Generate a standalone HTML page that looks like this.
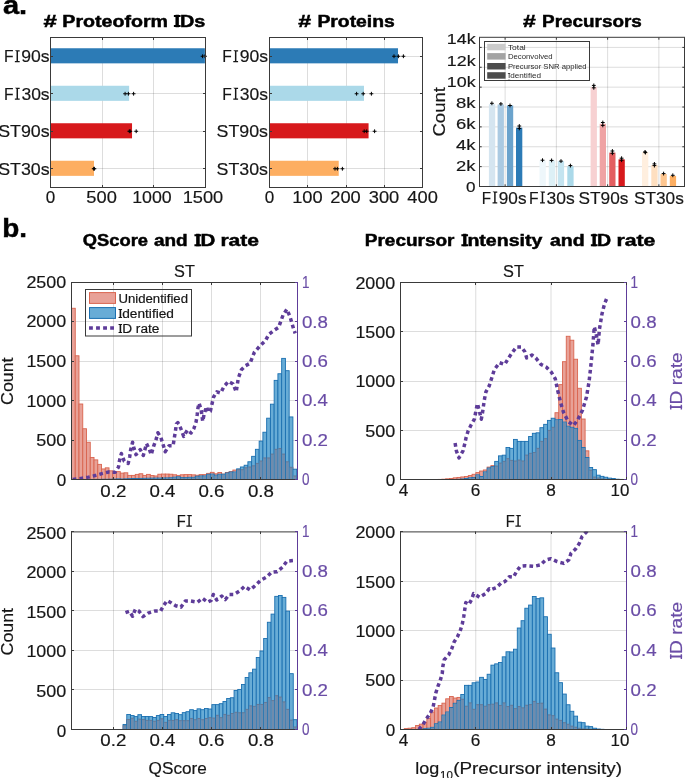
<!DOCTYPE html>
<html><head><meta charset="utf-8"><title>Figure</title><style>html,body{margin:0;padding:0;background:#fff;width:685px;height:778px;overflow:hidden}svg{display:block;will-change:transform}text{font-family:"Liberation Sans",sans-serif}</style></head><body>
<svg width="685" height="778" viewBox="0 0 685 778"><defs><clipPath id="c0"><rect x="71.5" y="282.5" width="226" height="197"/></clipPath><clipPath id="c1"><rect x="400.5" y="282.5" width="226" height="197"/></clipPath><clipPath id="c2"><rect x="71.5" y="531.5" width="226" height="198"/></clipPath><clipPath id="c3"><rect x="400.5" y="531.5" width="226" height="198"/></clipPath></defs><rect width="685" height="778" fill="#fff"/><text x="2.9" y="14.2" font-size="25" font-weight="bold" stroke="#000" stroke-width="0.45" textLength="24.2" lengthAdjust="spacingAndGlyphs">a.</text>
<line x1="102.5" y1="37.5" x2="102.5" y2="187.5" stroke="rgba(38,38,38,0.155)" stroke-width="1"/>
<line x1="153.5" y1="37.5" x2="153.5" y2="187.5" stroke="rgba(38,38,38,0.155)" stroke-width="1"/>
<line x1="50.5" y1="56.5" x2="205.5" y2="56.5" stroke="rgba(38,38,38,0.155)" stroke-width="1"/>
<line x1="50.5" y1="93.5" x2="205.5" y2="93.5" stroke="rgba(38,38,38,0.155)" stroke-width="1"/>
<line x1="50.5" y1="131.5" x2="205.5" y2="131.5" stroke="rgba(38,38,38,0.155)" stroke-width="1"/>
<line x1="50.5" y1="168.5" x2="205.5" y2="168.5" stroke="rgba(38,38,38,0.155)" stroke-width="1"/>
<rect x="50.5" y="48.25" width="154.38" height="15.1" fill="#2c7bb6"/>
<rect x="50.5" y="85.75" width="78.64" height="15.1" fill="#abd9e9"/>
<rect x="50.5" y="123.25" width="81.53" height="15.1" fill="#d7191c"/>
<rect x="50.5" y="160.75" width="43.5" height="15.1" fill="#fdae61"/>
<path d="M200.7 56.25H204.5M202.6 54.35V58.15" stroke="#000" stroke-width="1"/>
<path d="M203.1 56.25H206.9M205 54.35V58.15" stroke="#000" stroke-width="1"/>
<path d="M123.2 93.75H127M125.1 91.85V95.65" stroke="#000" stroke-width="1"/>
<path d="M126.5 93.75H130.3M128.4 91.85V95.65" stroke="#000" stroke-width="1"/>
<path d="M131.7 93.75H135.5M133.6 91.85V95.65" stroke="#000" stroke-width="1"/>
<path d="M127.4 131.25H131.2M129.3 129.35V133.15" stroke="#000" stroke-width="1"/>
<path d="M128.3 131.25H132.1M130.2 129.35V133.15" stroke="#000" stroke-width="1"/>
<path d="M134.3 131.25H138.1M136.2 129.35V133.15" stroke="#000" stroke-width="1"/>
<path d="M91.8 168.75H95.6M93.7 166.85V170.65" stroke="#000" stroke-width="1"/>
<path d="M92.5 168.75H96.3M94.4 166.85V170.65" stroke="#000" stroke-width="1"/>
<rect x="50.5" y="37.5" width="155" height="150" fill="none" stroke="#3a3a3a" stroke-width="1"/>
<line x1="50.5" y1="187.5" x2="50.5" y2="185" stroke="#3a3a3a" stroke-width="1"/>
<line x1="50.5" y1="37.5" x2="50.5" y2="40" stroke="#3a3a3a" stroke-width="1"/>
<line x1="102.5" y1="187.5" x2="102.5" y2="185" stroke="#3a3a3a" stroke-width="1"/>
<line x1="102.5" y1="37.5" x2="102.5" y2="40" stroke="#3a3a3a" stroke-width="1"/>
<line x1="153.5" y1="187.5" x2="153.5" y2="185" stroke="#3a3a3a" stroke-width="1"/>
<line x1="153.5" y1="37.5" x2="153.5" y2="40" stroke="#3a3a3a" stroke-width="1"/>
<line x1="205.5" y1="187.5" x2="205.5" y2="185" stroke="#3a3a3a" stroke-width="1"/>
<line x1="205.5" y1="37.5" x2="205.5" y2="40" stroke="#3a3a3a" stroke-width="1"/>
<line x1="50.5" y1="56.5" x2="53" y2="56.5" stroke="#3a3a3a" stroke-width="1"/>
<line x1="205.5" y1="56.5" x2="203" y2="56.5" stroke="#3a3a3a" stroke-width="1"/>
<line x1="50.5" y1="93.5" x2="53" y2="93.5" stroke="#3a3a3a" stroke-width="1"/>
<line x1="205.5" y1="93.5" x2="203" y2="93.5" stroke="#3a3a3a" stroke-width="1"/>
<line x1="50.5" y1="131.5" x2="53" y2="131.5" stroke="#3a3a3a" stroke-width="1"/>
<line x1="205.5" y1="131.5" x2="203" y2="131.5" stroke="#3a3a3a" stroke-width="1"/>
<line x1="50.5" y1="168.5" x2="53" y2="168.5" stroke="#3a3a3a" stroke-width="1"/>
<line x1="205.5" y1="168.5" x2="203" y2="168.5" stroke="#3a3a3a" stroke-width="1"/>
<text x="3.92" y="62.35" font-size="17.3" stroke="#161616" stroke-width="0.18" fill="#161616" textLength="9.56" lengthAdjust="spacingAndGlyphs">F</text>
<path d="M14.86 50.24h4.82v1.25h-1.67v9.62h1.67v1.25h-4.82v-1.25h1.67v-9.62z" fill="#161616"/>
<text x="21.28" y="62.35" font-size="17.3" stroke="#161616" stroke-width="0.18" fill="#161616" textLength="28.36" lengthAdjust="spacingAndGlyphs">90s</text>
<text x="3.92" y="99.85" font-size="17.3" stroke="#161616" stroke-width="0.18" fill="#161616" textLength="9.56" lengthAdjust="spacingAndGlyphs">F</text>
<path d="M14.86 87.74h4.82v1.25h-1.67v9.62h1.67v1.25h-4.82v-1.25h1.67v-9.62z" fill="#161616"/>
<text x="21.43" y="99.85" font-size="17.3" stroke="#161616" stroke-width="0.18" fill="#161616" textLength="28.2" lengthAdjust="spacingAndGlyphs">30s</text>
<text x="-1.81" y="137.35" font-size="17.3" stroke="#161616" stroke-width="0.18" fill="#161616" textLength="51.45" lengthAdjust="spacingAndGlyphs">ST90s</text>
<text x="-1.81" y="174.85" font-size="17.3" stroke="#161616" stroke-width="0.18" fill="#161616" textLength="51.45" lengthAdjust="spacingAndGlyphs">ST30s</text>
<text x="50.5" y="202.9" font-size="17" text-anchor="middle" stroke="#161616" stroke-width="0.18" fill="#161616" textLength="9.5" lengthAdjust="spacingAndGlyphs">0</text>
<text x="101.6" y="202.9" font-size="17" text-anchor="middle" stroke="#161616" stroke-width="0.18" fill="#161616" textLength="30.5" lengthAdjust="spacingAndGlyphs">500</text>
<text x="152" y="202.9" font-size="17" text-anchor="middle" stroke="#161616" stroke-width="0.18" fill="#161616" textLength="39.5" lengthAdjust="spacingAndGlyphs">1000</text>
<text x="203" y="202.9" font-size="17" text-anchor="middle" stroke="#161616" stroke-width="0.18" fill="#161616" textLength="40.5" lengthAdjust="spacingAndGlyphs">1500</text>
<line x1="307.5" y1="37.5" x2="307.5" y2="187.5" stroke="rgba(38,38,38,0.155)" stroke-width="1"/>
<line x1="346.5" y1="37.5" x2="346.5" y2="187.5" stroke="rgba(38,38,38,0.155)" stroke-width="1"/>
<line x1="384.5" y1="37.5" x2="384.5" y2="187.5" stroke="rgba(38,38,38,0.155)" stroke-width="1"/>
<line x1="269.5" y1="56.5" x2="422.5" y2="56.5" stroke="rgba(38,38,38,0.155)" stroke-width="1"/>
<line x1="269.5" y1="93.5" x2="422.5" y2="93.5" stroke="rgba(38,38,38,0.155)" stroke-width="1"/>
<line x1="269.5" y1="131.5" x2="422.5" y2="131.5" stroke="rgba(38,38,38,0.155)" stroke-width="1"/>
<line x1="269.5" y1="168.5" x2="422.5" y2="168.5" stroke="rgba(38,38,38,0.155)" stroke-width="1"/>
<rect x="269.5" y="48.25" width="128.52" height="15.1" fill="#2c7bb6"/>
<rect x="269.5" y="85.75" width="94.48" height="15.1" fill="#abd9e9"/>
<rect x="269.5" y="123.25" width="99.07" height="15.1" fill="#d7191c"/>
<rect x="269.5" y="160.75" width="69.23" height="15.1" fill="#fdae61"/>
<path d="M392.1 56.25H395.9M394 54.35V58.15" stroke="#000" stroke-width="1"/>
<path d="M396.5 56.25H400.3M398.4 54.35V58.15" stroke="#000" stroke-width="1"/>
<path d="M401.5 56.25H405.3M403.4 54.35V58.15" stroke="#000" stroke-width="1"/>
<path d="M354.7 93.75H358.5M356.6 91.85V95.65" stroke="#000" stroke-width="1"/>
<path d="M361.3 93.75H365.1M363.2 91.85V95.65" stroke="#000" stroke-width="1"/>
<path d="M369.5 93.75H373.3M371.4 91.85V95.65" stroke="#000" stroke-width="1"/>
<path d="M362.3 131.25H366.1M364.2 129.35V133.15" stroke="#000" stroke-width="1"/>
<path d="M364.8 131.25H368.6M366.7 129.35V133.15" stroke="#000" stroke-width="1"/>
<path d="M372.7 131.25H376.5M374.6 129.35V133.15" stroke="#000" stroke-width="1"/>
<path d="M333.1 168.75H336.9M335 166.85V170.65" stroke="#000" stroke-width="1"/>
<path d="M335.5 168.75H339.3M337.4 166.85V170.65" stroke="#000" stroke-width="1"/>
<path d="M340.5 168.75H344.3M342.4 166.85V170.65" stroke="#000" stroke-width="1"/>
<rect x="269.5" y="37.5" width="153" height="150" fill="none" stroke="#3a3a3a" stroke-width="1"/>
<line x1="269.5" y1="187.5" x2="269.5" y2="185" stroke="#3a3a3a" stroke-width="1"/>
<line x1="269.5" y1="37.5" x2="269.5" y2="40" stroke="#3a3a3a" stroke-width="1"/>
<line x1="307.5" y1="187.5" x2="307.5" y2="185" stroke="#3a3a3a" stroke-width="1"/>
<line x1="307.5" y1="37.5" x2="307.5" y2="40" stroke="#3a3a3a" stroke-width="1"/>
<line x1="346.5" y1="187.5" x2="346.5" y2="185" stroke="#3a3a3a" stroke-width="1"/>
<line x1="346.5" y1="37.5" x2="346.5" y2="40" stroke="#3a3a3a" stroke-width="1"/>
<line x1="384.5" y1="187.5" x2="384.5" y2="185" stroke="#3a3a3a" stroke-width="1"/>
<line x1="384.5" y1="37.5" x2="384.5" y2="40" stroke="#3a3a3a" stroke-width="1"/>
<line x1="422.5" y1="187.5" x2="422.5" y2="185" stroke="#3a3a3a" stroke-width="1"/>
<line x1="422.5" y1="37.5" x2="422.5" y2="40" stroke="#3a3a3a" stroke-width="1"/>
<line x1="269.5" y1="56.5" x2="272" y2="56.5" stroke="#3a3a3a" stroke-width="1"/>
<line x1="422.5" y1="56.5" x2="420" y2="56.5" stroke="#3a3a3a" stroke-width="1"/>
<line x1="269.5" y1="93.5" x2="272" y2="93.5" stroke="#3a3a3a" stroke-width="1"/>
<line x1="422.5" y1="93.5" x2="420" y2="93.5" stroke="#3a3a3a" stroke-width="1"/>
<line x1="269.5" y1="131.5" x2="272" y2="131.5" stroke="#3a3a3a" stroke-width="1"/>
<line x1="422.5" y1="131.5" x2="420" y2="131.5" stroke="#3a3a3a" stroke-width="1"/>
<line x1="269.5" y1="168.5" x2="272" y2="168.5" stroke="#3a3a3a" stroke-width="1"/>
<line x1="422.5" y1="168.5" x2="420" y2="168.5" stroke="#3a3a3a" stroke-width="1"/>
<text x="222.32" y="62.35" font-size="17.3" stroke="#161616" stroke-width="0.18" fill="#161616" textLength="9.56" lengthAdjust="spacingAndGlyphs">F</text>
<path d="M233.26 50.24h4.82v1.25h-1.67v9.62h1.67v1.25h-4.82v-1.25h1.67v-9.62z" fill="#161616"/>
<text x="239.68" y="62.35" font-size="17.3" stroke="#161616" stroke-width="0.18" fill="#161616" textLength="28.36" lengthAdjust="spacingAndGlyphs">90s</text>
<text x="222.32" y="99.85" font-size="17.3" stroke="#161616" stroke-width="0.18" fill="#161616" textLength="9.56" lengthAdjust="spacingAndGlyphs">F</text>
<path d="M233.26 87.74h4.82v1.25h-1.67v9.62h1.67v1.25h-4.82v-1.25h1.67v-9.62z" fill="#161616"/>
<text x="239.83" y="99.85" font-size="17.3" stroke="#161616" stroke-width="0.18" fill="#161616" textLength="28.2" lengthAdjust="spacingAndGlyphs">30s</text>
<text x="216.59" y="137.35" font-size="17.3" stroke="#161616" stroke-width="0.18" fill="#161616" textLength="51.45" lengthAdjust="spacingAndGlyphs">ST90s</text>
<text x="216.59" y="174.85" font-size="17.3" stroke="#161616" stroke-width="0.18" fill="#161616" textLength="51.45" lengthAdjust="spacingAndGlyphs">ST30s</text>
<text x="269.5" y="202.9" font-size="17" text-anchor="middle" stroke="#161616" stroke-width="0.18" fill="#161616" textLength="9.5" lengthAdjust="spacingAndGlyphs">0</text>
<text x="307.4" y="202.9" font-size="17" text-anchor="middle" stroke="#161616" stroke-width="0.18" fill="#161616" textLength="30.5" lengthAdjust="spacingAndGlyphs">100</text>
<text x="345.5" y="202.9" font-size="17" text-anchor="middle" stroke="#161616" stroke-width="0.18" fill="#161616" textLength="30.5" lengthAdjust="spacingAndGlyphs">200</text>
<text x="384" y="202.9" font-size="17" text-anchor="middle" stroke="#161616" stroke-width="0.18" fill="#161616" textLength="30.5" lengthAdjust="spacingAndGlyphs">300</text>
<text x="422.6" y="202.9" font-size="17" text-anchor="middle" stroke="#161616" stroke-width="0.18" fill="#161616" textLength="30.5" lengthAdjust="spacingAndGlyphs">400</text>
<text x="43.49" y="27" font-size="15.6" font-weight="bold" stroke="#000" stroke-width="0.45" textLength="13.29" lengthAdjust="spacingAndGlyphs">#</text>
<text x="62.39" y="27" font-size="15.6" font-weight="bold" stroke="#000" stroke-width="0.45" textLength="105.63" lengthAdjust="spacingAndGlyphs">Proteoform</text>
<text x="174.47" y="27" font-size="15.6" font-weight="bold" stroke="#000" stroke-width="0.45" textLength="30.84" lengthAdjust="spacingAndGlyphs">IDs</text>
<text x="298.2" y="27" font-size="15.6" font-weight="bold" stroke="#000" stroke-width="0.45" textLength="12.87" lengthAdjust="spacingAndGlyphs">#</text>
<text x="317.41" y="27" font-size="15.6" font-weight="bold" stroke="#000" stroke-width="0.45" textLength="77.39" lengthAdjust="spacingAndGlyphs">Proteins</text>
<text x="522.91" y="27" font-size="15.6" font-weight="bold" stroke="#000" stroke-width="0.45" textLength="12.76" lengthAdjust="spacingAndGlyphs">#</text>
<text x="542.14" y="27" font-size="15.6" font-weight="bold" stroke="#000" stroke-width="0.45" textLength="99.64" lengthAdjust="spacingAndGlyphs">Precursors</text>
<line x1="479.5" y1="166.63" x2="684.5" y2="166.63" stroke="rgba(38,38,38,0.155)" stroke-width="1"/>
<line x1="479.5" y1="146.76" x2="684.5" y2="146.76" stroke="rgba(38,38,38,0.155)" stroke-width="1"/>
<line x1="479.5" y1="126.89" x2="684.5" y2="126.89" stroke="rgba(38,38,38,0.155)" stroke-width="1"/>
<line x1="479.5" y1="107.02" x2="684.5" y2="107.02" stroke="rgba(38,38,38,0.155)" stroke-width="1"/>
<line x1="479.5" y1="87.15" x2="684.5" y2="87.15" stroke="rgba(38,38,38,0.155)" stroke-width="1"/>
<line x1="479.5" y1="67.28" x2="684.5" y2="67.28" stroke="rgba(38,38,38,0.155)" stroke-width="1"/>
<line x1="479.5" y1="47.41" x2="684.5" y2="47.41" stroke="rgba(38,38,38,0.155)" stroke-width="1"/>
<line x1="505.12" y1="37.5" x2="505.12" y2="186.5" stroke="rgba(38,38,38,0.155)" stroke-width="1"/>
<line x1="556.38" y1="37.5" x2="556.38" y2="186.5" stroke="rgba(38,38,38,0.155)" stroke-width="1"/>
<line x1="607.62" y1="37.5" x2="607.62" y2="186.5" stroke="rgba(38,38,38,0.155)" stroke-width="1"/>
<line x1="658.88" y1="37.5" x2="658.88" y2="186.5" stroke="rgba(38,38,38,0.155)" stroke-width="1"/>
<rect x="488.9" y="104.2" width="6.3" height="82.3" fill="#d5e5f0"/>
<rect x="497.6" y="104.5" width="6.3" height="82" fill="#abcae2"/>
<rect x="506.9" y="105.4" width="6.3" height="81.1" fill="#6ba3cc"/>
<rect x="516" y="127.7" width="6.3" height="58.8" fill="#2c7bb6"/>
<rect x="539.5" y="160.5" width="6.3" height="26" fill="#eef7fb"/>
<rect x="548.8" y="160.5" width="6.3" height="26" fill="#ddf0f6"/>
<rect x="557.8" y="161" width="6.3" height="25.5" fill="#c4e4f0"/>
<rect x="567.3" y="166.2" width="6.3" height="20.3" fill="#abd9e9"/>
<rect x="590.6" y="87" width="6.3" height="99.5" fill="#f7d1d2"/>
<rect x="599.7" y="123.8" width="6.3" height="62.7" fill="#efa3a4"/>
<rect x="609.2" y="152.6" width="6.3" height="33.9" fill="#e35e60"/>
<rect x="618.5" y="159.4" width="6.3" height="27.1" fill="#d7191c"/>
<rect x="642" y="152" width="6.3" height="34.5" fill="#ffefdf"/>
<rect x="651.3" y="165" width="6.3" height="21.5" fill="#fedfc0"/>
<rect x="660.5" y="174" width="6.3" height="12.5" fill="#fec690"/>
<rect x="669.8" y="175.9" width="6.3" height="10.6" fill="#fdae61"/>
<path d="M490 103.3H493.8M491.9 101.4V105.2" stroke="#000" stroke-width="1"/>
<path d="M499 103.9H502.8M500.9 102V105.8" stroke="#000" stroke-width="1"/>
<path d="M508.1 105.5H511.9M510 103.6V107.4" stroke="#000" stroke-width="1"/>
<path d="M517.4 126H521.2M519.3 124.1V127.9" stroke="#000" stroke-width="1"/>
<path d="M517.4 128.4H521.2M519.3 126.5V130.3" stroke="#000" stroke-width="1"/>
<path d="M540.6 160.2H544.4M542.5 158.3V162.1" stroke="#000" stroke-width="1"/>
<path d="M549.7 160.4H553.5M551.6 158.5V162.3" stroke="#000" stroke-width="1"/>
<path d="M559.1 161.1H562.9M561 159.2V163" stroke="#000" stroke-width="1"/>
<path d="M568.5 165.6H572.3M570.4 163.7V167.5" stroke="#000" stroke-width="1"/>
<path d="M591.9 85.4H595.7M593.8 83.5V87.3" stroke="#000" stroke-width="1"/>
<path d="M591.9 87.8H595.7M593.8 85.9V89.7" stroke="#000" stroke-width="1"/>
<path d="M600.9 122.5H604.7M602.8 120.6V124.4" stroke="#000" stroke-width="1"/>
<path d="M600.9 125.4H604.7M602.8 123.5V127.3" stroke="#000" stroke-width="1"/>
<path d="M610.5 151H614.3M612.4 149.1V152.9" stroke="#000" stroke-width="1"/>
<path d="M610.5 153.3H614.3M612.4 151.4V155.2" stroke="#000" stroke-width="1"/>
<path d="M619.7 158.2H623.5M621.6 156.3V160.1" stroke="#000" stroke-width="1"/>
<path d="M619.7 160.2H623.5M621.6 158.3V162.1" stroke="#000" stroke-width="1"/>
<path d="M643.1 151.9H646.9M645 150V153.8" stroke="#000" stroke-width="1"/>
<path d="M643.5 152.6H647.3M645.4 150.7V154.5" stroke="#000" stroke-width="1"/>
<path d="M652.5 163.9H656.3M654.4 162V165.8" stroke="#000" stroke-width="1"/>
<path d="M652.5 165.6H656.3M654.4 163.7V167.5" stroke="#000" stroke-width="1"/>
<path d="M661.7 173.6H665.5M663.6 171.7V175.5" stroke="#000" stroke-width="1"/>
<path d="M670.9 175.3H674.7M672.8 173.4V177.2" stroke="#000" stroke-width="1"/>
<rect x="484.5" y="41.5" width="105.0" height="39.0" fill="none" stroke="#3a3a3a" stroke-width="1"/>
<rect x="487.2" y="43.8" width="18.4" height="6.5" fill="#cbcbcb"/>
<text x="507.9" y="49.9" font-size="7.9" fill="#2a2a2a" textLength="17.8" lengthAdjust="spacingAndGlyphs">Total</text>
<rect x="487.2" y="53.1" width="18.4" height="6.5" fill="#a3a3a3"/>
<text x="507.9" y="59.2" font-size="7.9" fill="#2a2a2a" textLength="44.8" lengthAdjust="spacingAndGlyphs">Deconvolved</text>
<rect x="487.2" y="63" width="18.4" height="6.5" fill="#4c4c4c"/>
<text x="507.9" y="69.1" font-size="7.9" fill="#2a2a2a" textLength="78.6" lengthAdjust="spacingAndGlyphs">Precursor SNR applied</text>
<rect x="487.2" y="72.2" width="18.4" height="6.5" fill="#4c4c4c"/>
<text x="507.9" y="78.3" font-size="7.9" fill="#2a2a2a" textLength="33.2" lengthAdjust="spacingAndGlyphs">Identified</text>
<line x1="479" y1="37.3" x2="685" y2="37.3" stroke="#3a3a3a" stroke-width="1"/>
<line x1="479" y1="186.5" x2="685" y2="186.5" stroke="#3a3a3a" stroke-width="1"/>
<line x1="479.5" y1="37.3" x2="479.5" y2="186.5" stroke="#3a3a3a" stroke-width="1"/>
<line x1="684.5" y1="37.3" x2="684.5" y2="186.5" stroke="#3a3a3a" stroke-width="1"/>
<line x1="479.5" y1="186.5" x2="481.7" y2="186.5" stroke="#3a3a3a" stroke-width="1"/>
<line x1="684.5" y1="186.5" x2="682.3" y2="186.5" stroke="#3a3a3a" stroke-width="1"/>
<line x1="479.5" y1="166.63" x2="481.7" y2="166.63" stroke="#3a3a3a" stroke-width="1"/>
<line x1="684.5" y1="166.63" x2="682.3" y2="166.63" stroke="#3a3a3a" stroke-width="1"/>
<line x1="479.5" y1="146.76" x2="481.7" y2="146.76" stroke="#3a3a3a" stroke-width="1"/>
<line x1="684.5" y1="146.76" x2="682.3" y2="146.76" stroke="#3a3a3a" stroke-width="1"/>
<line x1="479.5" y1="126.89" x2="481.7" y2="126.89" stroke="#3a3a3a" stroke-width="1"/>
<line x1="684.5" y1="126.89" x2="682.3" y2="126.89" stroke="#3a3a3a" stroke-width="1"/>
<line x1="479.5" y1="107.02" x2="481.7" y2="107.02" stroke="#3a3a3a" stroke-width="1"/>
<line x1="684.5" y1="107.02" x2="682.3" y2="107.02" stroke="#3a3a3a" stroke-width="1"/>
<line x1="479.5" y1="87.15" x2="481.7" y2="87.15" stroke="#3a3a3a" stroke-width="1"/>
<line x1="684.5" y1="87.15" x2="682.3" y2="87.15" stroke="#3a3a3a" stroke-width="1"/>
<line x1="479.5" y1="67.28" x2="481.7" y2="67.28" stroke="#3a3a3a" stroke-width="1"/>
<line x1="684.5" y1="67.28" x2="682.3" y2="67.28" stroke="#3a3a3a" stroke-width="1"/>
<line x1="479.5" y1="47.41" x2="481.7" y2="47.41" stroke="#3a3a3a" stroke-width="1"/>
<line x1="684.5" y1="47.41" x2="682.3" y2="47.41" stroke="#3a3a3a" stroke-width="1"/>
<line x1="505.12" y1="186.5" x2="505.12" y2="184.3" stroke="#3a3a3a" stroke-width="1"/>
<line x1="505.12" y1="37.5" x2="505.12" y2="39.7" stroke="#3a3a3a" stroke-width="1"/>
<line x1="556.38" y1="186.5" x2="556.38" y2="184.3" stroke="#3a3a3a" stroke-width="1"/>
<line x1="556.38" y1="37.5" x2="556.38" y2="39.7" stroke="#3a3a3a" stroke-width="1"/>
<line x1="607.62" y1="186.5" x2="607.62" y2="184.3" stroke="#3a3a3a" stroke-width="1"/>
<line x1="607.62" y1="37.5" x2="607.62" y2="39.7" stroke="#3a3a3a" stroke-width="1"/>
<line x1="658.88" y1="186.5" x2="658.88" y2="184.3" stroke="#3a3a3a" stroke-width="1"/>
<line x1="658.88" y1="37.5" x2="658.88" y2="39.7" stroke="#3a3a3a" stroke-width="1"/>
<text x="475.6" y="192.4" font-size="14.8" text-anchor="end" stroke="#161616" stroke-width="0.18" fill="#161616" textLength="9.5" lengthAdjust="spacingAndGlyphs">0</text>
<text x="475.6" y="171.26" font-size="14.8" text-anchor="end" stroke="#161616" stroke-width="0.18" fill="#161616" textLength="19.5" lengthAdjust="spacingAndGlyphs">2k</text>
<text x="475.6" y="150.12" font-size="14.8" text-anchor="end" stroke="#161616" stroke-width="0.18" fill="#161616" textLength="19.5" lengthAdjust="spacingAndGlyphs">4k</text>
<text x="475.6" y="128.98" font-size="14.8" text-anchor="end" stroke="#161616" stroke-width="0.18" fill="#161616" textLength="19.5" lengthAdjust="spacingAndGlyphs">6k</text>
<text x="475.6" y="107.84" font-size="14.8" text-anchor="end" stroke="#161616" stroke-width="0.18" fill="#161616" textLength="19.5" lengthAdjust="spacingAndGlyphs">8k</text>
<text x="475.6" y="86.7" font-size="14.8" text-anchor="end" stroke="#161616" stroke-width="0.18" fill="#161616" textLength="28.8" lengthAdjust="spacingAndGlyphs">10k</text>
<text x="475.6" y="65.56" font-size="14.8" text-anchor="end" stroke="#161616" stroke-width="0.18" fill="#161616" textLength="28.8" lengthAdjust="spacingAndGlyphs">12k</text>
<text x="475.6" y="44.42" font-size="14.8" text-anchor="end" stroke="#161616" stroke-width="0.18" fill="#161616" textLength="28.8" lengthAdjust="spacingAndGlyphs">14k</text>
<text x="481.85" y="203.6" font-size="17.3" stroke="#161616" stroke-width="0.18" fill="#161616" textLength="9.34" lengthAdjust="spacingAndGlyphs">F</text>
<path d="M492.54 191.49h4.71v1.25h-1.62v9.62h1.62v1.25h-4.71v-1.25h1.62v-9.62z" fill="#161616"/>
<text x="498.81" y="203.6" font-size="17.3" stroke="#161616" stroke-width="0.18" fill="#161616" textLength="27.71" lengthAdjust="spacingAndGlyphs">90s</text>
<text x="529.12" y="203.6" font-size="17.3" stroke="#161616" stroke-width="0.18" fill="#161616" textLength="9.56" lengthAdjust="spacingAndGlyphs">F</text>
<path d="M540.06 191.49h4.82v1.25h-1.67v9.62h1.67v1.25h-4.82v-1.25h1.67v-9.62z" fill="#161616"/>
<text x="546.63" y="203.6" font-size="17.3" stroke="#161616" stroke-width="0.18" fill="#161616" textLength="28.2" lengthAdjust="spacingAndGlyphs">30s</text>
<text x="603.5" y="203.6" font-size="17.3" text-anchor="middle" stroke="#161616" stroke-width="0.18" fill="#161616" textLength="49.8" lengthAdjust="spacingAndGlyphs">ST90s</text>
<text x="658.9" y="203.6" font-size="17.3" text-anchor="middle" stroke="#161616" stroke-width="0.18" fill="#161616" textLength="49.8" lengthAdjust="spacingAndGlyphs">ST30s</text>
<text x="444.6" y="111.8" font-size="16.3" text-anchor="middle" stroke="#161616" stroke-width="0.18" fill="#161616" textLength="49.5" lengthAdjust="spacingAndGlyphs" transform="rotate(-90 444.6 111.8)">Count</text>
<text x="2.2" y="237" font-size="25" font-weight="bold" stroke="#000" stroke-width="0.45" textLength="24.8" lengthAdjust="spacingAndGlyphs">b.</text>
<text x="82.85" y="246.2" font-size="15.6" font-weight="bold" stroke="#000" stroke-width="0.45" textLength="65.18" lengthAdjust="spacingAndGlyphs">QScore</text>
<text x="153.94" y="246.2" font-size="15.6" font-weight="bold" stroke="#000" stroke-width="0.45" textLength="33.71" lengthAdjust="spacingAndGlyphs">and</text>
<text x="194.93" y="246.2" font-size="15.6" font-weight="bold" stroke="#000" stroke-width="0.45" textLength="20.42" lengthAdjust="spacingAndGlyphs">ID</text>
<text x="220.41" y="246.2" font-size="15.6" font-weight="bold" stroke="#000" stroke-width="0.45" textLength="38.61" lengthAdjust="spacingAndGlyphs">rate</text>
<text x="364.83" y="246.2" font-size="15.6" font-weight="bold" stroke="#000" stroke-width="0.45" textLength="89.66" lengthAdjust="spacingAndGlyphs">Precursor</text>
<text x="461.99" y="246.2" font-size="15.6" font-weight="bold" stroke="#000" stroke-width="0.45" textLength="80.41" lengthAdjust="spacingAndGlyphs">Intensity</text>
<text x="550.03" y="246.2" font-size="15.6" font-weight="bold" stroke="#000" stroke-width="0.45" textLength="34.66" lengthAdjust="spacingAndGlyphs">and</text>
<text x="591.49" y="246.2" font-size="15.6" font-weight="bold" stroke="#000" stroke-width="0.45" textLength="19.53" lengthAdjust="spacingAndGlyphs">ID</text>
<text x="616.4" y="246.2" font-size="15.6" font-weight="bold" stroke="#000" stroke-width="0.45" textLength="38.92" lengthAdjust="spacingAndGlyphs">rate</text>
<line x1="71.5" y1="440.5" x2="297.5" y2="440.5" stroke="rgba(38,38,38,0.155)" stroke-width="1"/>
<line x1="71.5" y1="400.5" x2="297.5" y2="400.5" stroke="rgba(38,38,38,0.155)" stroke-width="1"/>
<line x1="71.5" y1="361.5" x2="297.5" y2="361.5" stroke="rgba(38,38,38,0.155)" stroke-width="1"/>
<line x1="71.5" y1="321.5" x2="297.5" y2="321.5" stroke="rgba(38,38,38,0.155)" stroke-width="1"/>
<line x1="113.5" y1="282.5" x2="113.5" y2="479.5" stroke="rgba(38,38,38,0.155)" stroke-width="1"/>
<line x1="162.5" y1="282.5" x2="162.5" y2="479.5" stroke="rgba(38,38,38,0.155)" stroke-width="1"/>
<line x1="211.5" y1="282.5" x2="211.5" y2="479.5" stroke="rgba(38,38,38,0.155)" stroke-width="1"/>
<line x1="260.5" y1="282.5" x2="260.5" y2="479.5" stroke="rgba(38,38,38,0.155)" stroke-width="1"/>
<g clip-path="url(#c0)">
<rect x="71.5" y="308.27" width="3.75" height="171.23" fill="#e8a197" stroke="#d9644f" stroke-width="0.9"/>
<rect x="75.25" y="355.78" width="3.75" height="123.72" fill="#e8a197" stroke="#d9644f" stroke-width="0.9"/>
<rect x="79.01" y="404.01" width="3.75" height="75.49" fill="#e8a197" stroke="#d9644f" stroke-width="0.9"/>
<rect x="82.76" y="428.75" width="3.75" height="50.75" fill="#e8a197" stroke="#d9644f" stroke-width="0.9"/>
<rect x="86.51" y="442.23" width="3.75" height="37.27" fill="#e8a197" stroke="#d9644f" stroke-width="0.9"/>
<rect x="90.27" y="457.44" width="3.75" height="22.06" fill="#e8a197" stroke="#d9644f" stroke-width="0.9"/>
<rect x="94.02" y="459.88" width="3.75" height="19.62" fill="#e8a197" stroke="#d9644f" stroke-width="0.9"/>
<rect x="97.77" y="464.37" width="3.75" height="15.13" fill="#e8a197" stroke="#d9644f" stroke-width="0.9"/>
<rect x="101.52" y="468.94" width="3.75" height="10.56" fill="#e8a197" stroke="#d9644f" stroke-width="0.9"/>
<rect x="105.28" y="467.84" width="3.75" height="11.66" fill="#e8a197" stroke="#d9644f" stroke-width="0.9"/>
<rect x="109.03" y="470.83" width="3.75" height="8.67" fill="#e8a197" stroke="#d9644f" stroke-width="0.9"/>
<rect x="112.78" y="471.62" width="3.75" height="7.88" fill="#e8a197" stroke="#d9644f" stroke-width="0.9"/>
<rect x="116.54" y="471.62" width="3.75" height="7.88" fill="#e8a197" stroke="#d9644f" stroke-width="0.9"/>
<rect x="120.29" y="473.12" width="3.75" height="6.38" fill="#e8a197" stroke="#d9644f" stroke-width="0.9"/>
<rect x="124.04" y="472.8" width="3.75" height="6.7" fill="#e8a197" stroke="#d9644f" stroke-width="0.9"/>
<rect x="127.8" y="475.4" width="3.75" height="4.1" fill="#e8a197" stroke="#d9644f" stroke-width="0.9"/>
<rect x="131.55" y="475.4" width="3.75" height="4.1" fill="#e8a197" stroke="#d9644f" stroke-width="0.9"/>
<rect x="135.3" y="474.38" width="3.75" height="5.12" fill="#e8a197" stroke="#d9644f" stroke-width="0.9"/>
<rect x="139.05" y="473.75" width="3.75" height="5.75" fill="#e8a197" stroke="#d9644f" stroke-width="0.9"/>
<rect x="142.81" y="475.4" width="3.75" height="4.1" fill="#e8a197" stroke="#d9644f" stroke-width="0.9"/>
<rect x="146.56" y="474.38" width="3.75" height="5.12" fill="#e8a197" stroke="#d9644f" stroke-width="0.9"/>
<rect x="150.31" y="475.56" width="3.75" height="3.94" fill="#e8a197" stroke="#d9644f" stroke-width="0.9"/>
<rect x="154.07" y="475.95" width="3.75" height="3.55" fill="#e8a197" stroke="#d9644f" stroke-width="0.9"/>
<rect x="157.82" y="474.22" width="3.75" height="5.28" fill="#e8a197" stroke="#d9644f" stroke-width="0.9"/>
<rect x="161.57" y="474.06" width="3.75" height="5.44" fill="#e8a197" stroke="#d9644f" stroke-width="0.9"/>
<rect x="165.32" y="474.06" width="3.75" height="5.44" fill="#e8a197" stroke="#d9644f" stroke-width="0.9"/>
<rect x="169.08" y="474.22" width="3.75" height="5.28" fill="#e8a197" stroke="#d9644f" stroke-width="0.9"/>
<rect x="172.83" y="474.77" width="3.75" height="4.73" fill="#e8a197" stroke="#d9644f" stroke-width="0.9"/>
<rect x="176.58" y="475.4" width="3.75" height="4.1" fill="#e8a197" stroke="#d9644f" stroke-width="0.9"/>
<rect x="180.34" y="474.77" width="3.75" height="4.73" fill="#e8a197" stroke="#d9644f" stroke-width="0.9"/>
<rect x="184.09" y="474.61" width="3.75" height="4.89" fill="#e8a197" stroke="#d9644f" stroke-width="0.9"/>
<rect x="187.84" y="474.61" width="3.75" height="4.89" fill="#e8a197" stroke="#d9644f" stroke-width="0.9"/>
<rect x="191.6" y="474.85" width="3.75" height="4.65" fill="#e8a197" stroke="#d9644f" stroke-width="0.9"/>
<rect x="195.35" y="475.24" width="3.75" height="4.26" fill="#e8a197" stroke="#d9644f" stroke-width="0.9"/>
<rect x="199.1" y="474.61" width="3.75" height="4.89" fill="#e8a197" stroke="#d9644f" stroke-width="0.9"/>
<rect x="202.86" y="474.61" width="3.75" height="4.89" fill="#e8a197" stroke="#d9644f" stroke-width="0.9"/>
<rect x="206.61" y="473.35" width="3.75" height="6.15" fill="#e8a197" stroke="#d9644f" stroke-width="0.9"/>
<rect x="210.36" y="472.33" width="3.75" height="7.17" fill="#e8a197" stroke="#d9644f" stroke-width="0.9"/>
<rect x="214.11" y="473.83" width="3.75" height="5.67" fill="#e8a197" stroke="#d9644f" stroke-width="0.9"/>
<rect x="217.87" y="472.49" width="3.75" height="7.01" fill="#e8a197" stroke="#d9644f" stroke-width="0.9"/>
<rect x="221.62" y="474.06" width="3.75" height="5.44" fill="#e8a197" stroke="#d9644f" stroke-width="0.9"/>
<rect x="225.37" y="472.49" width="3.75" height="7.01" fill="#e8a197" stroke="#d9644f" stroke-width="0.9"/>
<rect x="229.13" y="471.62" width="3.75" height="7.88" fill="#e8a197" stroke="#d9644f" stroke-width="0.9"/>
<rect x="232.88" y="470.04" width="3.75" height="9.46" fill="#e8a197" stroke="#d9644f" stroke-width="0.9"/>
<rect x="236.63" y="469.65" width="3.75" height="9.85" fill="#e8a197" stroke="#d9644f" stroke-width="0.9"/>
<rect x="240.38" y="469.65" width="3.75" height="9.85" fill="#e8a197" stroke="#d9644f" stroke-width="0.9"/>
<rect x="244.14" y="467.76" width="3.75" height="11.74" fill="#e8a197" stroke="#d9644f" stroke-width="0.9"/>
<rect x="247.89" y="466.97" width="3.75" height="12.53" fill="#e8a197" stroke="#d9644f" stroke-width="0.9"/>
<rect x="251.64" y="465.79" width="3.75" height="13.71" fill="#e8a197" stroke="#d9644f" stroke-width="0.9"/>
<rect x="255.4" y="463.42" width="3.75" height="16.08" fill="#e8a197" stroke="#d9644f" stroke-width="0.9"/>
<rect x="259.15" y="460.98" width="3.75" height="18.52" fill="#e8a197" stroke="#d9644f" stroke-width="0.9"/>
<rect x="262.9" y="457.91" width="3.75" height="21.59" fill="#e8a197" stroke="#d9644f" stroke-width="0.9"/>
<rect x="266.66" y="457.91" width="3.75" height="21.59" fill="#e8a197" stroke="#d9644f" stroke-width="0.9"/>
<rect x="270.41" y="454.05" width="3.75" height="25.45" fill="#e8a197" stroke="#d9644f" stroke-width="0.9"/>
<rect x="274.16" y="449.32" width="3.75" height="30.18" fill="#e8a197" stroke="#d9644f" stroke-width="0.9"/>
<rect x="277.92" y="448.53" width="3.75" height="30.97" fill="#e8a197" stroke="#d9644f" stroke-width="0.9"/>
<rect x="281.67" y="454.05" width="3.75" height="25.45" fill="#e8a197" stroke="#d9644f" stroke-width="0.9"/>
<rect x="285.42" y="461.77" width="3.75" height="17.73" fill="#e8a197" stroke="#d9644f" stroke-width="0.9"/>
<rect x="289.17" y="467.29" width="3.75" height="12.21" fill="#e8a197" stroke="#d9644f" stroke-width="0.9"/>
<rect x="292.93" y="475.95" width="3.75" height="3.55" fill="#e8a197" stroke="#d9644f" stroke-width="0.9"/>
<rect x="90.27" y="479.42" width="3.75" height="0.08" fill="#68acd6" stroke="#1a6fb0" stroke-width="0.9"/>
<rect x="94.02" y="479.34" width="3.75" height="0.16" fill="#68acd6" stroke="#1a6fb0" stroke-width="0.9"/>
<rect x="97.77" y="479.34" width="3.75" height="0.16" fill="#68acd6" stroke="#1a6fb0" stroke-width="0.9"/>
<rect x="101.52" y="479.26" width="3.75" height="0.24" fill="#68acd6" stroke="#1a6fb0" stroke-width="0.9"/>
<rect x="105.28" y="479.26" width="3.75" height="0.24" fill="#68acd6" stroke="#1a6fb0" stroke-width="0.9"/>
<rect x="109.03" y="479.18" width="3.75" height="0.32" fill="#68acd6" stroke="#1a6fb0" stroke-width="0.9"/>
<rect x="112.78" y="479.11" width="3.75" height="0.39" fill="#68acd6" stroke="#1a6fb0" stroke-width="0.9"/>
<rect x="116.54" y="478.87" width="3.75" height="0.63" fill="#68acd6" stroke="#1a6fb0" stroke-width="0.9"/>
<rect x="120.29" y="479.03" width="3.75" height="0.47" fill="#68acd6" stroke="#1a6fb0" stroke-width="0.9"/>
<rect x="124.04" y="478.87" width="3.75" height="0.63" fill="#68acd6" stroke="#1a6fb0" stroke-width="0.9"/>
<rect x="127.8" y="478.71" width="3.75" height="0.79" fill="#68acd6" stroke="#1a6fb0" stroke-width="0.9"/>
<rect x="131.55" y="478.55" width="3.75" height="0.95" fill="#68acd6" stroke="#1a6fb0" stroke-width="0.9"/>
<rect x="135.3" y="478.48" width="3.75" height="1.02" fill="#68acd6" stroke="#1a6fb0" stroke-width="0.9"/>
<rect x="139.05" y="478.4" width="3.75" height="1.1" fill="#68acd6" stroke="#1a6fb0" stroke-width="0.9"/>
<rect x="142.81" y="478.32" width="3.75" height="1.18" fill="#68acd6" stroke="#1a6fb0" stroke-width="0.9"/>
<rect x="146.56" y="478.24" width="3.75" height="1.26" fill="#68acd6" stroke="#1a6fb0" stroke-width="0.9"/>
<rect x="150.31" y="478.16" width="3.75" height="1.34" fill="#68acd6" stroke="#1a6fb0" stroke-width="0.9"/>
<rect x="154.07" y="478.08" width="3.75" height="1.42" fill="#68acd6" stroke="#1a6fb0" stroke-width="0.9"/>
<rect x="157.82" y="478.08" width="3.75" height="1.42" fill="#68acd6" stroke="#1a6fb0" stroke-width="0.9"/>
<rect x="161.57" y="478" width="3.75" height="1.5" fill="#68acd6" stroke="#1a6fb0" stroke-width="0.9"/>
<rect x="165.32" y="477.92" width="3.75" height="1.58" fill="#68acd6" stroke="#1a6fb0" stroke-width="0.9"/>
<rect x="169.08" y="477.77" width="3.75" height="1.73" fill="#68acd6" stroke="#1a6fb0" stroke-width="0.9"/>
<rect x="172.83" y="477.14" width="3.75" height="2.36" fill="#68acd6" stroke="#1a6fb0" stroke-width="0.9"/>
<rect x="176.58" y="476.82" width="3.75" height="2.68" fill="#68acd6" stroke="#1a6fb0" stroke-width="0.9"/>
<rect x="180.34" y="477.69" width="3.75" height="1.81" fill="#68acd6" stroke="#1a6fb0" stroke-width="0.9"/>
<rect x="184.09" y="477.69" width="3.75" height="1.81" fill="#68acd6" stroke="#1a6fb0" stroke-width="0.9"/>
<rect x="187.84" y="477.29" width="3.75" height="2.21" fill="#68acd6" stroke="#1a6fb0" stroke-width="0.9"/>
<rect x="191.6" y="477.29" width="3.75" height="2.21" fill="#68acd6" stroke="#1a6fb0" stroke-width="0.9"/>
<rect x="195.35" y="476.19" width="3.75" height="3.31" fill="#68acd6" stroke="#1a6fb0" stroke-width="0.9"/>
<rect x="199.1" y="475.95" width="3.75" height="3.55" fill="#68acd6" stroke="#1a6fb0" stroke-width="0.9"/>
<rect x="202.86" y="475.95" width="3.75" height="3.55" fill="#68acd6" stroke="#1a6fb0" stroke-width="0.9"/>
<rect x="206.61" y="474.22" width="3.75" height="5.28" fill="#68acd6" stroke="#1a6fb0" stroke-width="0.9"/>
<rect x="210.36" y="474.06" width="3.75" height="5.44" fill="#68acd6" stroke="#1a6fb0" stroke-width="0.9"/>
<rect x="214.11" y="475.17" width="3.75" height="4.33" fill="#68acd6" stroke="#1a6fb0" stroke-width="0.9"/>
<rect x="217.87" y="474.22" width="3.75" height="5.28" fill="#68acd6" stroke="#1a6fb0" stroke-width="0.9"/>
<rect x="221.62" y="474.22" width="3.75" height="5.28" fill="#68acd6" stroke="#1a6fb0" stroke-width="0.9"/>
<rect x="225.37" y="472.96" width="3.75" height="6.54" fill="#68acd6" stroke="#1a6fb0" stroke-width="0.9"/>
<rect x="229.13" y="472.01" width="3.75" height="7.49" fill="#68acd6" stroke="#1a6fb0" stroke-width="0.9"/>
<rect x="232.88" y="472.01" width="3.75" height="7.49" fill="#68acd6" stroke="#1a6fb0" stroke-width="0.9"/>
<rect x="236.63" y="468.86" width="3.75" height="10.64" fill="#68acd6" stroke="#1a6fb0" stroke-width="0.9"/>
<rect x="240.38" y="466.97" width="3.75" height="12.53" fill="#68acd6" stroke="#1a6fb0" stroke-width="0.9"/>
<rect x="244.14" y="465.24" width="3.75" height="14.26" fill="#68acd6" stroke="#1a6fb0" stroke-width="0.9"/>
<rect x="247.89" y="461.77" width="3.75" height="17.73" fill="#68acd6" stroke="#1a6fb0" stroke-width="0.9"/>
<rect x="251.64" y="456.33" width="3.75" height="23.17" fill="#68acd6" stroke="#1a6fb0" stroke-width="0.9"/>
<rect x="255.4" y="449.32" width="3.75" height="30.18" fill="#68acd6" stroke="#1a6fb0" stroke-width="0.9"/>
<rect x="259.15" y="441.12" width="3.75" height="38.38" fill="#68acd6" stroke="#1a6fb0" stroke-width="0.9"/>
<rect x="262.9" y="432.22" width="3.75" height="47.28" fill="#68acd6" stroke="#1a6fb0" stroke-width="0.9"/>
<rect x="266.66" y="418.19" width="3.75" height="61.31" fill="#68acd6" stroke="#1a6fb0" stroke-width="0.9"/>
<rect x="270.41" y="404.17" width="3.75" height="75.33" fill="#68acd6" stroke="#1a6fb0" stroke-width="0.9"/>
<rect x="274.16" y="380.37" width="3.75" height="99.13" fill="#68acd6" stroke="#1a6fb0" stroke-width="0.9"/>
<rect x="277.92" y="373.75" width="3.75" height="105.75" fill="#68acd6" stroke="#1a6fb0" stroke-width="0.9"/>
<rect x="281.67" y="358.38" width="3.75" height="121.12" fill="#68acd6" stroke="#1a6fb0" stroke-width="0.9"/>
<rect x="285.42" y="370.68" width="3.75" height="108.82" fill="#68acd6" stroke="#1a6fb0" stroke-width="0.9"/>
<rect x="289.17" y="416.93" width="3.75" height="62.57" fill="#68acd6" stroke="#1a6fb0" stroke-width="0.9"/>
<rect x="292.93" y="469.18" width="3.75" height="10.32" fill="#68acd6" stroke="#1a6fb0" stroke-width="0.9"/>
<rect x="90.72" y="479.87" width="2.85" height="-0.37" fill="#6f8cad"/>
<rect x="94.47" y="479.79" width="2.85" height="-0.29" fill="#6f8cad"/>
<rect x="98.22" y="479.79" width="2.85" height="-0.29" fill="#6f8cad"/>
<rect x="101.97" y="479.71" width="2.85" height="-0.21" fill="#6f8cad"/>
<rect x="105.73" y="479.71" width="2.85" height="-0.21" fill="#6f8cad"/>
<rect x="109.48" y="479.63" width="2.85" height="-0.13" fill="#6f8cad"/>
<rect x="113.23" y="479.56" width="2.85" height="-0.06" fill="#6f8cad"/>
<rect x="116.99" y="479.32" width="2.85" height="0.18" fill="#6f8cad"/>
<rect x="120.74" y="479.48" width="2.85" height="0.02" fill="#6f8cad"/>
<rect x="124.49" y="479.32" width="2.85" height="0.18" fill="#6f8cad"/>
<rect x="128.25" y="479.16" width="2.85" height="0.34" fill="#6f8cad"/>
<rect x="132" y="479" width="2.85" height="0.5" fill="#6f8cad"/>
<rect x="135.75" y="478.93" width="2.85" height="0.57" fill="#6f8cad"/>
<rect x="139.5" y="478.85" width="2.85" height="0.65" fill="#6f8cad"/>
<rect x="143.26" y="478.77" width="2.85" height="0.73" fill="#6f8cad"/>
<rect x="147.01" y="478.69" width="2.85" height="0.81" fill="#6f8cad"/>
<rect x="150.76" y="478.61" width="2.85" height="0.89" fill="#6f8cad"/>
<rect x="154.52" y="478.53" width="2.85" height="0.97" fill="#6f8cad"/>
<rect x="158.27" y="478.53" width="2.85" height="0.97" fill="#6f8cad"/>
<rect x="162.02" y="478.45" width="2.85" height="1.05" fill="#6f8cad"/>
<rect x="165.77" y="478.37" width="2.85" height="1.13" fill="#6f8cad"/>
<rect x="169.53" y="478.22" width="2.85" height="1.28" fill="#6f8cad"/>
<rect x="173.28" y="477.59" width="2.85" height="1.91" fill="#6f8cad"/>
<rect x="177.03" y="477.27" width="2.85" height="2.23" fill="#6f8cad"/>
<rect x="180.79" y="478.14" width="2.85" height="1.36" fill="#6f8cad"/>
<rect x="184.54" y="478.14" width="2.85" height="1.36" fill="#6f8cad"/>
<rect x="188.29" y="477.74" width="2.85" height="1.76" fill="#6f8cad"/>
<rect x="192.05" y="477.74" width="2.85" height="1.76" fill="#6f8cad"/>
<rect x="195.8" y="476.64" width="2.85" height="2.86" fill="#6f8cad"/>
<rect x="199.55" y="476.4" width="2.85" height="3.1" fill="#6f8cad"/>
<rect x="203.31" y="476.4" width="2.85" height="3.1" fill="#6f8cad"/>
<rect x="207.06" y="474.67" width="2.85" height="4.83" fill="#6f8cad"/>
<rect x="210.81" y="474.51" width="2.85" height="4.99" fill="#6f8cad"/>
<rect x="214.56" y="475.62" width="2.85" height="3.88" fill="#6f8cad"/>
<rect x="218.32" y="474.67" width="2.85" height="4.83" fill="#6f8cad"/>
<rect x="222.07" y="474.67" width="2.85" height="4.83" fill="#6f8cad"/>
<rect x="225.82" y="473.41" width="2.85" height="6.09" fill="#6f8cad"/>
<rect x="229.58" y="472.46" width="2.85" height="7.04" fill="#6f8cad"/>
<rect x="233.33" y="472.46" width="2.85" height="7.04" fill="#6f8cad"/>
<rect x="237.08" y="469.65" width="2.85" height="9.85" fill="#6f8cad"/>
<line x1="237.08" y1="469.65" x2="239.94" y2="469.65" stroke="#66708a" stroke-width="0.8"/>
<rect x="240.83" y="469.65" width="2.85" height="9.85" fill="#6f8cad"/>
<line x1="240.83" y1="469.65" x2="243.69" y2="469.65" stroke="#66708a" stroke-width="0.8"/>
<rect x="244.59" y="467.76" width="2.85" height="11.74" fill="#6f8cad"/>
<line x1="244.59" y1="467.76" x2="247.44" y2="467.76" stroke="#66708a" stroke-width="0.8"/>
<rect x="248.34" y="466.97" width="2.85" height="12.53" fill="#6f8cad"/>
<line x1="248.34" y1="466.97" x2="251.19" y2="466.97" stroke="#66708a" stroke-width="0.8"/>
<rect x="252.09" y="465.79" width="2.85" height="13.71" fill="#6f8cad"/>
<line x1="252.09" y1="465.79" x2="254.95" y2="465.79" stroke="#66708a" stroke-width="0.8"/>
<rect x="255.85" y="463.42" width="2.85" height="16.08" fill="#6f8cad"/>
<line x1="255.85" y1="463.42" x2="258.7" y2="463.42" stroke="#66708a" stroke-width="0.8"/>
<rect x="259.6" y="460.98" width="2.85" height="18.52" fill="#6f8cad"/>
<line x1="259.6" y1="460.98" x2="262.45" y2="460.98" stroke="#66708a" stroke-width="0.8"/>
<rect x="263.35" y="457.91" width="2.85" height="21.59" fill="#6f8cad"/>
<line x1="263.35" y1="457.91" x2="266.21" y2="457.91" stroke="#66708a" stroke-width="0.8"/>
<rect x="267.11" y="457.91" width="2.85" height="21.59" fill="#6f8cad"/>
<line x1="267.11" y1="457.91" x2="269.96" y2="457.91" stroke="#66708a" stroke-width="0.8"/>
<rect x="270.86" y="454.05" width="2.85" height="25.45" fill="#6f8cad"/>
<line x1="270.86" y1="454.05" x2="273.71" y2="454.05" stroke="#66708a" stroke-width="0.8"/>
<rect x="274.61" y="449.32" width="2.85" height="30.18" fill="#6f8cad"/>
<line x1="274.61" y1="449.32" x2="277.47" y2="449.32" stroke="#66708a" stroke-width="0.8"/>
<rect x="278.37" y="448.53" width="2.85" height="30.97" fill="#6f8cad"/>
<line x1="278.37" y1="448.53" x2="281.22" y2="448.53" stroke="#66708a" stroke-width="0.8"/>
<rect x="282.12" y="454.05" width="2.85" height="25.45" fill="#6f8cad"/>
<line x1="282.12" y1="454.05" x2="284.97" y2="454.05" stroke="#66708a" stroke-width="0.8"/>
<rect x="285.87" y="461.77" width="2.85" height="17.73" fill="#6f8cad"/>
<line x1="285.87" y1="461.77" x2="288.72" y2="461.77" stroke="#66708a" stroke-width="0.8"/>
<rect x="289.62" y="467.29" width="2.85" height="12.21" fill="#6f8cad"/>
<line x1="289.62" y1="467.29" x2="292.48" y2="467.29" stroke="#66708a" stroke-width="0.8"/>
<rect x="293.38" y="475.95" width="2.85" height="3.55" fill="#6f8cad"/>
<line x1="293.38" y1="475.95" x2="296.23" y2="475.95" stroke="#66708a" stroke-width="0.8"/>
<polyline points="72.7,479.5 81.8,478.32 88.5,477.14 95.1,475.56 101.8,473.59 108.9,472.01 115.1,472.21 118.5,467.09 119.5,460.59 121.4,453.5 124.2,461.18 128.2,463.35 129.7,456.85 130.7,449.56 132.6,442.27 134.1,448.77 136,454.68 137.7,452.51 140.2,449.56 143.3,455.47 144.7,450.34 146.5,443.65 149.1,448.77 151.2,454.68 153.5,446.6 156,439.71 157.9,432.81 160.8,437.34 162.8,443.65 165.2,451.72 169.1,445.81 173.1,445.81 174.2,438.52 175.3,432.02 176.4,423.95 177.9,422.57 180.8,428.48 183.7,436.36 187.4,429.86 191,433.01 193.9,428.48 196.1,421.78 197.2,414.49 198,407.79 199.1,403.26 201.2,410.16 202.7,421.19 204.2,413.9 206.4,406.61 208.5,412.32 210.3,411.34 213.6,396.96 216.8,391.83 220.7,393.02 224,386.52 228.5,381.39 233.1,383.95 236.2,391.83 238.3,378.24 241.4,369.77 245.3,365.83 250,363.27 254.4,352.24 259.6,346.33 265.6,340.42 268.7,334.51 273.4,330.76 278.6,327.42 283,315.2 286.9,309.29 290,316.58 293.4,328.2 295.2,333.33" fill="none" stroke="#5e3c99" stroke-width="3.5" stroke-dasharray="3.7 3.1" stroke-linejoin="round"/>
</g>
<line x1="71" y1="282.5" x2="298" y2="282.5" stroke="#3a3a3a" stroke-width="1"/>
<line x1="71.5" y1="479.5" x2="297.5" y2="479.5" stroke="#3a3a3a" stroke-width="1"/>
<line x1="71.5" y1="282" x2="71.5" y2="480" stroke="#3a3a3a" stroke-width="1"/>
<line x1="297.5" y1="282" x2="297.5" y2="480" stroke="#5e3c99" stroke-width="1"/>
<line x1="71.5" y1="479.5" x2="74" y2="479.5" stroke="#3a3a3a" stroke-width="1"/>
<line x1="71.5" y1="440.5" x2="74" y2="440.5" stroke="#3a3a3a" stroke-width="1"/>
<line x1="71.5" y1="400.5" x2="74" y2="400.5" stroke="#3a3a3a" stroke-width="1"/>
<line x1="71.5" y1="361.5" x2="74" y2="361.5" stroke="#3a3a3a" stroke-width="1"/>
<line x1="71.5" y1="321.5" x2="74" y2="321.5" stroke="#3a3a3a" stroke-width="1"/>
<line x1="71.5" y1="282.5" x2="74" y2="282.5" stroke="#3a3a3a" stroke-width="1"/>
<line x1="297.5" y1="479.5" x2="295" y2="479.5" stroke="#5e3c99" stroke-width="1"/>
<line x1="297.5" y1="440.5" x2="295" y2="440.5" stroke="#5e3c99" stroke-width="1"/>
<line x1="297.5" y1="400.5" x2="295" y2="400.5" stroke="#5e3c99" stroke-width="1"/>
<line x1="297.5" y1="361.5" x2="295" y2="361.5" stroke="#5e3c99" stroke-width="1"/>
<line x1="297.5" y1="321.5" x2="295" y2="321.5" stroke="#5e3c99" stroke-width="1"/>
<line x1="297.5" y1="282.5" x2="295" y2="282.5" stroke="#5e3c99" stroke-width="1"/>
<line x1="113.5" y1="479.5" x2="113.5" y2="477" stroke="#3a3a3a" stroke-width="1"/>
<line x1="113.5" y1="282.5" x2="113.5" y2="285" stroke="#3a3a3a" stroke-width="1"/>
<line x1="162.5" y1="479.5" x2="162.5" y2="477" stroke="#3a3a3a" stroke-width="1"/>
<line x1="162.5" y1="282.5" x2="162.5" y2="285" stroke="#3a3a3a" stroke-width="1"/>
<line x1="211.5" y1="479.5" x2="211.5" y2="477" stroke="#3a3a3a" stroke-width="1"/>
<line x1="211.5" y1="282.5" x2="211.5" y2="285" stroke="#3a3a3a" stroke-width="1"/>
<line x1="260.5" y1="479.5" x2="260.5" y2="477" stroke="#3a3a3a" stroke-width="1"/>
<line x1="260.5" y1="282.5" x2="260.5" y2="285" stroke="#3a3a3a" stroke-width="1"/>
<text x="66.2" y="485.85" font-size="17" text-anchor="end" stroke="#161616" stroke-width="0.18" fill="#161616" textLength="9.5" lengthAdjust="spacingAndGlyphs">0</text>
<text x="66.2" y="446.22" font-size="17" text-anchor="end" stroke="#161616" stroke-width="0.18" fill="#161616" textLength="30" lengthAdjust="spacingAndGlyphs">500</text>
<text x="66.2" y="406.59" font-size="17" text-anchor="end" stroke="#161616" stroke-width="0.18" fill="#161616" textLength="39.8" lengthAdjust="spacingAndGlyphs">1000</text>
<text x="66.2" y="366.96" font-size="17" text-anchor="end" stroke="#161616" stroke-width="0.18" fill="#161616" textLength="39.8" lengthAdjust="spacingAndGlyphs">1500</text>
<text x="66.2" y="327.33" font-size="17" text-anchor="end" stroke="#161616" stroke-width="0.18" fill="#161616" textLength="39.8" lengthAdjust="spacingAndGlyphs">2000</text>
<text x="66.2" y="287.7" font-size="17" text-anchor="end" stroke="#161616" stroke-width="0.18" fill="#161616" textLength="39.8" lengthAdjust="spacingAndGlyphs">2500</text>
<text x="301.9" y="485.1" font-size="17" stroke="#6a4da6" stroke-width="0.18" fill="#6a4da6" textLength="7.5" lengthAdjust="spacingAndGlyphs">0</text>
<text x="301.9" y="445.7" font-size="17" stroke="#6a4da6" stroke-width="0.18" fill="#6a4da6" textLength="26" lengthAdjust="spacingAndGlyphs">0.2</text>
<text x="301.9" y="406.3" font-size="17" stroke="#6a4da6" stroke-width="0.18" fill="#6a4da6" textLength="26" lengthAdjust="spacingAndGlyphs">0.4</text>
<text x="301.9" y="366.9" font-size="17" stroke="#6a4da6" stroke-width="0.18" fill="#6a4da6" textLength="26" lengthAdjust="spacingAndGlyphs">0.6</text>
<text x="301.9" y="327.5" font-size="17" stroke="#6a4da6" stroke-width="0.18" fill="#6a4da6" textLength="26" lengthAdjust="spacingAndGlyphs">0.8</text>
<text x="301.9" y="288.1" font-size="17" stroke="#6a4da6" stroke-width="0.18" fill="#6a4da6" textLength="7.5" lengthAdjust="spacingAndGlyphs">1</text>
<text x="113.3" y="496.6" font-size="17" text-anchor="middle" stroke="#161616" stroke-width="0.18" fill="#161616" textLength="26" lengthAdjust="spacingAndGlyphs">0.2</text>
<text x="162.4" y="496.6" font-size="17" text-anchor="middle" stroke="#161616" stroke-width="0.18" fill="#161616" textLength="26" lengthAdjust="spacingAndGlyphs">0.4</text>
<text x="211.4" y="496.6" font-size="17" text-anchor="middle" stroke="#161616" stroke-width="0.18" fill="#161616" textLength="26" lengthAdjust="spacingAndGlyphs">0.6</text>
<text x="260.9" y="496.6" font-size="17" text-anchor="middle" stroke="#161616" stroke-width="0.18" fill="#161616" textLength="26" lengthAdjust="spacingAndGlyphs">0.8</text>
<text x="184.5" y="277" font-size="16.8" text-anchor="middle" stroke="#161616" stroke-width="0.18" fill="#161616" textLength="20.8" lengthAdjust="spacingAndGlyphs">ST</text>
<text x="13.4" y="381.2" font-size="16.3" text-anchor="middle" stroke="#161616" stroke-width="0.18" fill="#161616" textLength="47.5" lengthAdjust="spacingAndGlyphs" transform="rotate(-90 13.4 381.2)">Count</text>
<line x1="400.5" y1="430.5" x2="626.5" y2="430.5" stroke="rgba(38,38,38,0.155)" stroke-width="1"/>
<line x1="400.5" y1="381.5" x2="626.5" y2="381.5" stroke="rgba(38,38,38,0.155)" stroke-width="1"/>
<line x1="400.5" y1="331.5" x2="626.5" y2="331.5" stroke="rgba(38,38,38,0.155)" stroke-width="1"/>
<line x1="475.76" y1="282.5" x2="475.76" y2="479.5" stroke="rgba(38,38,38,0.155)" stroke-width="1"/>
<line x1="551.02" y1="282.5" x2="551.02" y2="479.5" stroke="rgba(38,38,38,0.155)" stroke-width="1"/>
<g clip-path="url(#c1)">
<rect x="438.18" y="479.4" width="3.77" height="0.1" fill="#e8a197" stroke="#d9644f" stroke-width="0.9"/>
<rect x="441.94" y="479.2" width="3.77" height="0.3" fill="#e8a197" stroke="#d9644f" stroke-width="0.9"/>
<rect x="445.71" y="478.81" width="3.77" height="0.69" fill="#e8a197" stroke="#d9644f" stroke-width="0.9"/>
<rect x="449.48" y="478.51" width="3.77" height="0.99" fill="#e8a197" stroke="#d9644f" stroke-width="0.9"/>
<rect x="453.25" y="477.83" width="3.77" height="1.67" fill="#e8a197" stroke="#d9644f" stroke-width="0.9"/>
<rect x="457.01" y="477.43" width="3.77" height="2.07" fill="#e8a197" stroke="#d9644f" stroke-width="0.9"/>
<rect x="460.78" y="476.94" width="3.77" height="2.56" fill="#e8a197" stroke="#d9644f" stroke-width="0.9"/>
<rect x="464.55" y="476.55" width="3.77" height="2.96" fill="#e8a197" stroke="#d9644f" stroke-width="0.9"/>
<rect x="468.31" y="475.56" width="3.77" height="3.94" fill="#e8a197" stroke="#d9644f" stroke-width="0.9"/>
<rect x="472.08" y="474.28" width="3.77" height="5.22" fill="#e8a197" stroke="#d9644f" stroke-width="0.9"/>
<rect x="475.85" y="472.61" width="3.77" height="6.9" fill="#e8a197" stroke="#d9644f" stroke-width="0.9"/>
<rect x="479.62" y="471.03" width="3.77" height="8.47" fill="#e8a197" stroke="#d9644f" stroke-width="0.9"/>
<rect x="483.38" y="469.95" width="3.77" height="9.55" fill="#e8a197" stroke="#d9644f" stroke-width="0.9"/>
<rect x="487.15" y="467.09" width="3.77" height="12.41" fill="#e8a197" stroke="#d9644f" stroke-width="0.9"/>
<rect x="490.92" y="465.61" width="3.77" height="13.89" fill="#e8a197" stroke="#d9644f" stroke-width="0.9"/>
<rect x="494.69" y="466.01" width="3.77" height="13.49" fill="#e8a197" stroke="#d9644f" stroke-width="0.9"/>
<rect x="498.45" y="463.05" width="3.77" height="16.45" fill="#e8a197" stroke="#d9644f" stroke-width="0.9"/>
<rect x="502.22" y="461.38" width="3.77" height="18.12" fill="#e8a197" stroke="#d9644f" stroke-width="0.9"/>
<rect x="505.99" y="458.62" width="3.77" height="20.88" fill="#e8a197" stroke="#d9644f" stroke-width="0.9"/>
<rect x="509.76" y="460.39" width="3.77" height="19.11" fill="#e8a197" stroke="#d9644f" stroke-width="0.9"/>
<rect x="513.52" y="460.98" width="3.77" height="18.52" fill="#e8a197" stroke="#d9644f" stroke-width="0.9"/>
<rect x="517.29" y="460" width="3.77" height="19.5" fill="#e8a197" stroke="#d9644f" stroke-width="0.9"/>
<rect x="521.06" y="460.98" width="3.77" height="18.52" fill="#e8a197" stroke="#d9644f" stroke-width="0.9"/>
<rect x="524.83" y="455.07" width="3.77" height="24.43" fill="#e8a197" stroke="#d9644f" stroke-width="0.9"/>
<rect x="528.6" y="453.3" width="3.77" height="26.2" fill="#e8a197" stroke="#d9644f" stroke-width="0.9"/>
<rect x="532.36" y="452.51" width="3.77" height="26.99" fill="#e8a197" stroke="#d9644f" stroke-width="0.9"/>
<rect x="536.13" y="448.37" width="3.77" height="31.13" fill="#e8a197" stroke="#d9644f" stroke-width="0.9"/>
<rect x="539.9" y="441.38" width="3.77" height="38.12" fill="#e8a197" stroke="#d9644f" stroke-width="0.9"/>
<rect x="543.66" y="438.62" width="3.77" height="40.88" fill="#e8a197" stroke="#d9644f" stroke-width="0.9"/>
<rect x="547.43" y="430.45" width="3.77" height="49.05" fill="#e8a197" stroke="#d9644f" stroke-width="0.9"/>
<rect x="551.2" y="427.3" width="3.77" height="52.21" fill="#e8a197" stroke="#d9644f" stroke-width="0.9"/>
<rect x="554.97" y="412.72" width="3.77" height="66.78" fill="#e8a197" stroke="#d9644f" stroke-width="0.9"/>
<rect x="558.74" y="384.64" width="3.77" height="94.86" fill="#e8a197" stroke="#d9644f" stroke-width="0.9"/>
<rect x="562.5" y="361.69" width="3.77" height="117.81" fill="#e8a197" stroke="#d9644f" stroke-width="0.9"/>
<rect x="566.27" y="336.28" width="3.77" height="143.22" fill="#e8a197" stroke="#d9644f" stroke-width="0.9"/>
<rect x="570.04" y="340.22" width="3.77" height="139.28" fill="#e8a197" stroke="#d9644f" stroke-width="0.9"/>
<rect x="573.81" y="359.23" width="3.77" height="120.27" fill="#e8a197" stroke="#d9644f" stroke-width="0.9"/>
<rect x="577.57" y="388.29" width="3.77" height="91.21" fill="#e8a197" stroke="#d9644f" stroke-width="0.9"/>
<rect x="581.34" y="419.02" width="3.77" height="60.48" fill="#e8a197" stroke="#d9644f" stroke-width="0.9"/>
<rect x="585.11" y="450.84" width="3.77" height="28.66" fill="#e8a197" stroke="#d9644f" stroke-width="0.9"/>
<rect x="588.88" y="470.24" width="3.77" height="9.26" fill="#e8a197" stroke="#d9644f" stroke-width="0.9"/>
<rect x="592.64" y="477.04" width="3.77" height="2.46" fill="#e8a197" stroke="#d9644f" stroke-width="0.9"/>
<rect x="596.41" y="478.02" width="3.77" height="1.48" fill="#e8a197" stroke="#d9644f" stroke-width="0.9"/>
<rect x="600.18" y="478.91" width="3.77" height="0.59" fill="#e8a197" stroke="#d9644f" stroke-width="0.9"/>
<rect x="603.94" y="479.2" width="3.77" height="0.3" fill="#e8a197" stroke="#d9644f" stroke-width="0.9"/>
<rect x="607.71" y="479.4" width="3.77" height="0.1" fill="#e8a197" stroke="#d9644f" stroke-width="0.9"/>
<rect x="457.01" y="479.3" width="3.77" height="0.2" fill="#68acd6" stroke="#1a6fb0" stroke-width="0.9"/>
<rect x="460.78" y="479.01" width="3.77" height="0.49" fill="#68acd6" stroke="#1a6fb0" stroke-width="0.9"/>
<rect x="464.55" y="478.51" width="3.77" height="0.99" fill="#68acd6" stroke="#1a6fb0" stroke-width="0.9"/>
<rect x="468.31" y="477.83" width="3.77" height="1.67" fill="#68acd6" stroke="#1a6fb0" stroke-width="0.9"/>
<rect x="472.08" y="477.43" width="3.77" height="2.07" fill="#68acd6" stroke="#1a6fb0" stroke-width="0.9"/>
<rect x="475.85" y="474.87" width="3.77" height="4.63" fill="#68acd6" stroke="#1a6fb0" stroke-width="0.9"/>
<rect x="479.62" y="476.55" width="3.77" height="2.96" fill="#68acd6" stroke="#1a6fb0" stroke-width="0.9"/>
<rect x="483.38" y="471.92" width="3.77" height="7.58" fill="#68acd6" stroke="#1a6fb0" stroke-width="0.9"/>
<rect x="487.15" y="467.98" width="3.77" height="11.52" fill="#68acd6" stroke="#1a6fb0" stroke-width="0.9"/>
<rect x="490.92" y="466.69" width="3.77" height="12.8" fill="#68acd6" stroke="#1a6fb0" stroke-width="0.9"/>
<rect x="494.69" y="461.38" width="3.77" height="18.12" fill="#68acd6" stroke="#1a6fb0" stroke-width="0.9"/>
<rect x="498.45" y="455.86" width="3.77" height="23.64" fill="#68acd6" stroke="#1a6fb0" stroke-width="0.9"/>
<rect x="502.22" y="455.17" width="3.77" height="24.33" fill="#68acd6" stroke="#1a6fb0" stroke-width="0.9"/>
<rect x="505.99" y="447.49" width="3.77" height="32.01" fill="#68acd6" stroke="#1a6fb0" stroke-width="0.9"/>
<rect x="509.76" y="448.37" width="3.77" height="31.13" fill="#68acd6" stroke="#1a6fb0" stroke-width="0.9"/>
<rect x="513.52" y="439.41" width="3.77" height="40.09" fill="#68acd6" stroke="#1a6fb0" stroke-width="0.9"/>
<rect x="517.29" y="441.38" width="3.77" height="38.12" fill="#68acd6" stroke="#1a6fb0" stroke-width="0.9"/>
<rect x="521.06" y="441.38" width="3.77" height="38.12" fill="#68acd6" stroke="#1a6fb0" stroke-width="0.9"/>
<rect x="524.83" y="441.38" width="3.77" height="38.12" fill="#68acd6" stroke="#1a6fb0" stroke-width="0.9"/>
<rect x="528.6" y="436.55" width="3.77" height="42.95" fill="#68acd6" stroke="#1a6fb0" stroke-width="0.9"/>
<rect x="532.36" y="433.3" width="3.77" height="46.2" fill="#68acd6" stroke="#1a6fb0" stroke-width="0.9"/>
<rect x="536.13" y="432.81" width="3.77" height="46.69" fill="#68acd6" stroke="#1a6fb0" stroke-width="0.9"/>
<rect x="539.9" y="427.69" width="3.77" height="51.81" fill="#68acd6" stroke="#1a6fb0" stroke-width="0.9"/>
<rect x="543.66" y="424.34" width="3.77" height="55.16" fill="#68acd6" stroke="#1a6fb0" stroke-width="0.9"/>
<rect x="547.43" y="420.4" width="3.77" height="59.1" fill="#68acd6" stroke="#1a6fb0" stroke-width="0.9"/>
<rect x="551.2" y="418.23" width="3.77" height="61.27" fill="#68acd6" stroke="#1a6fb0" stroke-width="0.9"/>
<rect x="554.97" y="419.81" width="3.77" height="59.69" fill="#68acd6" stroke="#1a6fb0" stroke-width="0.9"/>
<rect x="558.74" y="419.61" width="3.77" height="59.89" fill="#68acd6" stroke="#1a6fb0" stroke-width="0.9"/>
<rect x="562.5" y="422.07" width="3.77" height="57.43" fill="#68acd6" stroke="#1a6fb0" stroke-width="0.9"/>
<rect x="566.27" y="426.21" width="3.77" height="53.29" fill="#68acd6" stroke="#1a6fb0" stroke-width="0.9"/>
<rect x="570.04" y="427.3" width="3.77" height="52.21" fill="#68acd6" stroke="#1a6fb0" stroke-width="0.9"/>
<rect x="573.81" y="428.38" width="3.77" height="51.12" fill="#68acd6" stroke="#1a6fb0" stroke-width="0.9"/>
<rect x="577.57" y="440.4" width="3.77" height="39.1" fill="#68acd6" stroke="#1a6fb0" stroke-width="0.9"/>
<rect x="581.34" y="447.49" width="3.77" height="32.01" fill="#68acd6" stroke="#1a6fb0" stroke-width="0.9"/>
<rect x="585.11" y="457.53" width="3.77" height="21.97" fill="#68acd6" stroke="#1a6fb0" stroke-width="0.9"/>
<rect x="588.88" y="467.48" width="3.77" height="12.02" fill="#68acd6" stroke="#1a6fb0" stroke-width="0.9"/>
<rect x="592.64" y="469.65" width="3.77" height="9.85" fill="#68acd6" stroke="#1a6fb0" stroke-width="0.9"/>
<rect x="596.41" y="475.17" width="3.77" height="4.33" fill="#68acd6" stroke="#1a6fb0" stroke-width="0.9"/>
<rect x="600.18" y="476.35" width="3.77" height="3.15" fill="#68acd6" stroke="#1a6fb0" stroke-width="0.9"/>
<rect x="603.94" y="477.23" width="3.77" height="2.27" fill="#68acd6" stroke="#1a6fb0" stroke-width="0.9"/>
<rect x="607.71" y="478.12" width="3.77" height="1.38" fill="#68acd6" stroke="#1a6fb0" stroke-width="0.9"/>
<rect x="611.48" y="478.51" width="3.77" height="0.99" fill="#68acd6" stroke="#1a6fb0" stroke-width="0.9"/>
<rect x="615.25" y="479.2" width="3.77" height="0.3" fill="#68acd6" stroke="#1a6fb0" stroke-width="0.9"/>
<rect x="619.01" y="479.4" width="3.77" height="0.1" fill="#68acd6" stroke="#1a6fb0" stroke-width="0.9"/>
<rect x="457.46" y="479.75" width="2.87" height="-0.25" fill="#6f8cad"/>
<rect x="461.23" y="479.46" width="2.87" height="0.04" fill="#6f8cad"/>
<rect x="465" y="478.96" width="2.87" height="0.54" fill="#6f8cad"/>
<rect x="468.76" y="478.28" width="2.87" height="1.22" fill="#6f8cad"/>
<rect x="472.53" y="477.88" width="2.87" height="1.62" fill="#6f8cad"/>
<rect x="476.3" y="475.32" width="2.87" height="4.18" fill="#6f8cad"/>
<rect x="480.07" y="477" width="2.87" height="2.5" fill="#6f8cad"/>
<rect x="483.83" y="472.37" width="2.87" height="7.13" fill="#6f8cad"/>
<rect x="487.6" y="468.43" width="2.87" height="11.07" fill="#6f8cad"/>
<rect x="491.37" y="467.14" width="2.87" height="12.36" fill="#6f8cad"/>
<rect x="495.14" y="466.01" width="2.87" height="13.49" fill="#6f8cad"/>
<line x1="495.14" y1="466.01" x2="498" y2="466.01" stroke="#66708a" stroke-width="0.8"/>
<rect x="498.9" y="463.05" width="2.87" height="16.45" fill="#6f8cad"/>
<line x1="498.9" y1="463.05" x2="501.77" y2="463.05" stroke="#66708a" stroke-width="0.8"/>
<rect x="502.67" y="461.38" width="2.87" height="18.12" fill="#6f8cad"/>
<line x1="502.67" y1="461.38" x2="505.54" y2="461.38" stroke="#66708a" stroke-width="0.8"/>
<rect x="506.44" y="458.62" width="2.87" height="20.88" fill="#6f8cad"/>
<line x1="506.44" y1="458.62" x2="509.31" y2="458.62" stroke="#66708a" stroke-width="0.8"/>
<rect x="510.21" y="460.39" width="2.87" height="19.11" fill="#6f8cad"/>
<line x1="510.21" y1="460.39" x2="513.07" y2="460.39" stroke="#66708a" stroke-width="0.8"/>
<rect x="513.98" y="460.98" width="2.87" height="18.52" fill="#6f8cad"/>
<line x1="513.98" y1="460.98" x2="516.84" y2="460.98" stroke="#66708a" stroke-width="0.8"/>
<rect x="517.74" y="460" width="2.87" height="19.5" fill="#6f8cad"/>
<line x1="517.74" y1="460" x2="520.61" y2="460" stroke="#66708a" stroke-width="0.8"/>
<rect x="521.51" y="460.98" width="2.87" height="18.52" fill="#6f8cad"/>
<line x1="521.51" y1="460.98" x2="524.38" y2="460.98" stroke="#66708a" stroke-width="0.8"/>
<rect x="525.28" y="455.07" width="2.87" height="24.43" fill="#6f8cad"/>
<line x1="525.28" y1="455.07" x2="528.14" y2="455.07" stroke="#66708a" stroke-width="0.8"/>
<rect x="529.05" y="453.3" width="2.87" height="26.2" fill="#6f8cad"/>
<line x1="529.05" y1="453.3" x2="531.91" y2="453.3" stroke="#66708a" stroke-width="0.8"/>
<rect x="532.81" y="452.51" width="2.87" height="26.99" fill="#6f8cad"/>
<line x1="532.81" y1="452.51" x2="535.68" y2="452.51" stroke="#66708a" stroke-width="0.8"/>
<rect x="536.58" y="448.37" width="2.87" height="31.13" fill="#6f8cad"/>
<line x1="536.58" y1="448.37" x2="539.45" y2="448.37" stroke="#66708a" stroke-width="0.8"/>
<rect x="540.35" y="441.38" width="2.87" height="38.12" fill="#6f8cad"/>
<line x1="540.35" y1="441.38" x2="543.22" y2="441.38" stroke="#66708a" stroke-width="0.8"/>
<rect x="544.12" y="438.62" width="2.87" height="40.88" fill="#6f8cad"/>
<line x1="544.12" y1="438.62" x2="546.98" y2="438.62" stroke="#66708a" stroke-width="0.8"/>
<rect x="547.88" y="430.45" width="2.87" height="49.05" fill="#6f8cad"/>
<line x1="547.88" y1="430.45" x2="550.75" y2="430.45" stroke="#66708a" stroke-width="0.8"/>
<rect x="551.65" y="427.3" width="2.87" height="52.21" fill="#6f8cad"/>
<line x1="551.65" y1="427.3" x2="554.52" y2="427.3" stroke="#66708a" stroke-width="0.8"/>
<rect x="555.42" y="420.26" width="2.87" height="59.24" fill="#6f8cad"/>
<rect x="559.19" y="420.06" width="2.87" height="59.44" fill="#6f8cad"/>
<rect x="562.95" y="422.52" width="2.87" height="56.98" fill="#6f8cad"/>
<rect x="566.72" y="426.66" width="2.87" height="52.84" fill="#6f8cad"/>
<rect x="570.49" y="427.75" width="2.87" height="51.76" fill="#6f8cad"/>
<rect x="574.26" y="428.83" width="2.87" height="50.67" fill="#6f8cad"/>
<rect x="578.02" y="440.85" width="2.87" height="38.65" fill="#6f8cad"/>
<rect x="581.79" y="447.94" width="2.87" height="31.56" fill="#6f8cad"/>
<rect x="585.56" y="457.98" width="2.87" height="21.52" fill="#6f8cad"/>
<rect x="589.33" y="470.24" width="2.87" height="9.26" fill="#6f8cad"/>
<line x1="589.33" y1="470.24" x2="592.19" y2="470.24" stroke="#66708a" stroke-width="0.8"/>
<rect x="593.09" y="477.04" width="2.87" height="2.46" fill="#6f8cad"/>
<line x1="593.09" y1="477.04" x2="595.96" y2="477.04" stroke="#66708a" stroke-width="0.8"/>
<rect x="596.86" y="478.02" width="2.87" height="1.48" fill="#6f8cad"/>
<line x1="596.86" y1="478.02" x2="599.73" y2="478.02" stroke="#66708a" stroke-width="0.8"/>
<rect x="600.63" y="478.91" width="2.87" height="0.59" fill="#6f8cad"/>
<line x1="600.63" y1="478.91" x2="603.5" y2="478.91" stroke="#66708a" stroke-width="0.8"/>
<rect x="604.39" y="479.2" width="2.87" height="0.3" fill="#6f8cad"/>
<line x1="604.39" y1="479.2" x2="607.26" y2="479.2" stroke="#66708a" stroke-width="0.8"/>
<rect x="608.16" y="479.4" width="2.87" height="0.1" fill="#6f8cad"/>
<line x1="608.16" y1="479.4" x2="611.03" y2="479.4" stroke="#66708a" stroke-width="0.8"/>
<polyline points="455.1,443.06 456.4,450.94 459,457.83 463,450.94 464.7,444.04 466.2,437.14 468.2,430.64 471.2,424.73 474.4,419.22 475.7,412.13 477.4,403.65 479.1,409.96 481.3,419.22 482.6,412.13 483.5,405.62 484.6,398.53 485.9,391.83 489.2,385.93 494.3,369.77 499.5,362.68 504.7,364.45 508.6,357.95 512.5,352.24 516.4,347.12 521.5,347.12 524.7,351.45 526.7,357.95 531.9,355 535.8,357.95 541,364.45 546.2,367.01 551.4,372.33 555.3,378.83 557.4,389.27 560.5,402.08 563.6,412.52 568.3,421.58 573.5,425.52 577.4,420.4 582.6,409.96 586.5,396.96 589.1,381.39 591.1,363.27 592.9,344.95 594.3,326.82 596.3,334.71 598.1,344.95 599.4,329.39 602,313.82 604.6,303.58 606.5,299.05" fill="none" stroke="#5e3c99" stroke-width="3.5" stroke-dasharray="3.7 3.1" stroke-linejoin="round"/>
</g>
<line x1="400" y1="282.5" x2="627" y2="282.5" stroke="#3a3a3a" stroke-width="1"/>
<line x1="400.5" y1="479.5" x2="626.5" y2="479.5" stroke="#3a3a3a" stroke-width="1"/>
<line x1="400.5" y1="282" x2="400.5" y2="480" stroke="#3a3a3a" stroke-width="1"/>
<line x1="626.5" y1="282" x2="626.5" y2="480" stroke="#5e3c99" stroke-width="1"/>
<line x1="400.5" y1="479.5" x2="403" y2="479.5" stroke="#3a3a3a" stroke-width="1"/>
<line x1="400.5" y1="430.5" x2="403" y2="430.5" stroke="#3a3a3a" stroke-width="1"/>
<line x1="400.5" y1="381.5" x2="403" y2="381.5" stroke="#3a3a3a" stroke-width="1"/>
<line x1="400.5" y1="331.5" x2="403" y2="331.5" stroke="#3a3a3a" stroke-width="1"/>
<line x1="400.5" y1="282.5" x2="403" y2="282.5" stroke="#3a3a3a" stroke-width="1"/>
<line x1="626.5" y1="479.5" x2="624" y2="479.5" stroke="#5e3c99" stroke-width="1"/>
<line x1="626.5" y1="440.5" x2="624" y2="440.5" stroke="#5e3c99" stroke-width="1"/>
<line x1="626.5" y1="400.5" x2="624" y2="400.5" stroke="#5e3c99" stroke-width="1"/>
<line x1="626.5" y1="361.5" x2="624" y2="361.5" stroke="#5e3c99" stroke-width="1"/>
<line x1="626.5" y1="321.5" x2="624" y2="321.5" stroke="#5e3c99" stroke-width="1"/>
<line x1="626.5" y1="282.5" x2="624" y2="282.5" stroke="#5e3c99" stroke-width="1"/>
<line x1="400.5" y1="479.5" x2="400.5" y2="477" stroke="#3a3a3a" stroke-width="1"/>
<line x1="400.5" y1="282.5" x2="400.5" y2="285" stroke="#3a3a3a" stroke-width="1"/>
<line x1="475.5" y1="479.5" x2="475.5" y2="477" stroke="#3a3a3a" stroke-width="1"/>
<line x1="475.5" y1="282.5" x2="475.5" y2="285" stroke="#3a3a3a" stroke-width="1"/>
<line x1="551.5" y1="479.5" x2="551.5" y2="477" stroke="#3a3a3a" stroke-width="1"/>
<line x1="551.5" y1="282.5" x2="551.5" y2="285" stroke="#3a3a3a" stroke-width="1"/>
<line x1="626.5" y1="479.5" x2="626.5" y2="477" stroke="#3a3a3a" stroke-width="1"/>
<line x1="626.5" y1="282.5" x2="626.5" y2="285" stroke="#3a3a3a" stroke-width="1"/>
<text x="395.2" y="485.9" font-size="17" text-anchor="end" stroke="#161616" stroke-width="0.18" fill="#161616" textLength="9.5" lengthAdjust="spacingAndGlyphs">0</text>
<text x="395.2" y="436.65" font-size="17" text-anchor="end" stroke="#161616" stroke-width="0.18" fill="#161616" textLength="30" lengthAdjust="spacingAndGlyphs">500</text>
<text x="395.2" y="387.4" font-size="17" text-anchor="end" stroke="#161616" stroke-width="0.18" fill="#161616" textLength="39.8" lengthAdjust="spacingAndGlyphs">1000</text>
<text x="395.2" y="338.15" font-size="17" text-anchor="end" stroke="#161616" stroke-width="0.18" fill="#161616" textLength="39.8" lengthAdjust="spacingAndGlyphs">1500</text>
<text x="395.2" y="288.9" font-size="17" text-anchor="end" stroke="#161616" stroke-width="0.18" fill="#161616" textLength="39.8" lengthAdjust="spacingAndGlyphs">2000</text>
<text x="630.6" y="485.1" font-size="17" stroke="#6a4da6" stroke-width="0.18" fill="#6a4da6" textLength="7.5" lengthAdjust="spacingAndGlyphs">0</text>
<text x="630.6" y="445.7" font-size="17" stroke="#6a4da6" stroke-width="0.18" fill="#6a4da6" textLength="26" lengthAdjust="spacingAndGlyphs">0.2</text>
<text x="630.6" y="406.3" font-size="17" stroke="#6a4da6" stroke-width="0.18" fill="#6a4da6" textLength="26" lengthAdjust="spacingAndGlyphs">0.4</text>
<text x="630.6" y="366.9" font-size="17" stroke="#6a4da6" stroke-width="0.18" fill="#6a4da6" textLength="26" lengthAdjust="spacingAndGlyphs">0.6</text>
<text x="630.6" y="327.5" font-size="17" stroke="#6a4da6" stroke-width="0.18" fill="#6a4da6" textLength="26" lengthAdjust="spacingAndGlyphs">0.8</text>
<text x="630.6" y="288.1" font-size="17" stroke="#6a4da6" stroke-width="0.18" fill="#6a4da6" textLength="7.5" lengthAdjust="spacingAndGlyphs">1</text>
<text x="403.5" y="495.8" font-size="17" text-anchor="middle" stroke="#161616" stroke-width="0.18" fill="#161616" textLength="9.6" lengthAdjust="spacingAndGlyphs">4</text>
<text x="475.6" y="495.8" font-size="17" text-anchor="middle" stroke="#161616" stroke-width="0.18" fill="#161616" textLength="9.6" lengthAdjust="spacingAndGlyphs">6</text>
<text x="551" y="495.8" font-size="17" text-anchor="middle" stroke="#161616" stroke-width="0.18" fill="#161616" textLength="9.6" lengthAdjust="spacingAndGlyphs">8</text>
<text x="620" y="495.8" font-size="17" text-anchor="middle" stroke="#161616" stroke-width="0.18" fill="#161616" textLength="18.8" lengthAdjust="spacingAndGlyphs">10</text>
<text x="513.5" y="277" font-size="16.8" text-anchor="middle" stroke="#161616" stroke-width="0.18" fill="#161616" textLength="20.8" lengthAdjust="spacingAndGlyphs">ST</text>
<text x="682.3" y="381" font-size="16.3" text-anchor="middle" stroke="#6a4da6" stroke-width="0.18" fill="#6a4da6" textLength="57.5" lengthAdjust="spacingAndGlyphs" transform="rotate(-90 682.3 381)">ID rate</text>
<line x1="71.5" y1="689.5" x2="297.5" y2="689.5" stroke="rgba(38,38,38,0.155)" stroke-width="1"/>
<line x1="71.5" y1="650.5" x2="297.5" y2="650.5" stroke="rgba(38,38,38,0.155)" stroke-width="1"/>
<line x1="71.5" y1="610.5" x2="297.5" y2="610.5" stroke="rgba(38,38,38,0.155)" stroke-width="1"/>
<line x1="71.5" y1="571.5" x2="297.5" y2="571.5" stroke="rgba(38,38,38,0.155)" stroke-width="1"/>
<line x1="113.5" y1="531.5" x2="113.5" y2="729.5" stroke="rgba(38,38,38,0.155)" stroke-width="1"/>
<line x1="162.5" y1="531.5" x2="162.5" y2="729.5" stroke="rgba(38,38,38,0.155)" stroke-width="1"/>
<line x1="211.5" y1="531.5" x2="211.5" y2="729.5" stroke="rgba(38,38,38,0.155)" stroke-width="1"/>
<line x1="260.5" y1="531.5" x2="260.5" y2="729.5" stroke="rgba(38,38,38,0.155)" stroke-width="1"/>
<g clip-path="url(#c2)">
<rect x="123.06" y="725.7" width="3.7" height="3.8" fill="#e8a197" stroke="#d9644f" stroke-width="0.9"/>
<rect x="126.76" y="719.52" width="3.7" height="9.98" fill="#e8a197" stroke="#d9644f" stroke-width="0.9"/>
<rect x="130.46" y="718.17" width="3.7" height="11.33" fill="#e8a197" stroke="#d9644f" stroke-width="0.9"/>
<rect x="134.16" y="721.26" width="3.7" height="8.24" fill="#e8a197" stroke="#d9644f" stroke-width="0.9"/>
<rect x="137.86" y="719.12" width="3.7" height="10.38" fill="#e8a197" stroke="#d9644f" stroke-width="0.9"/>
<rect x="141.56" y="719.52" width="3.7" height="9.98" fill="#e8a197" stroke="#d9644f" stroke-width="0.9"/>
<rect x="145.26" y="720.39" width="3.7" height="9.11" fill="#e8a197" stroke="#d9644f" stroke-width="0.9"/>
<rect x="148.96" y="720.39" width="3.7" height="9.11" fill="#e8a197" stroke="#d9644f" stroke-width="0.9"/>
<rect x="152.66" y="721.26" width="3.7" height="8.24" fill="#e8a197" stroke="#d9644f" stroke-width="0.9"/>
<rect x="156.36" y="720.39" width="3.7" height="9.11" fill="#e8a197" stroke="#d9644f" stroke-width="0.9"/>
<rect x="160.06" y="718.73" width="3.7" height="10.77" fill="#e8a197" stroke="#d9644f" stroke-width="0.9"/>
<rect x="163.76" y="722.37" width="3.7" height="7.13" fill="#e8a197" stroke="#d9644f" stroke-width="0.9"/>
<rect x="167.46" y="720.39" width="3.7" height="9.11" fill="#e8a197" stroke="#d9644f" stroke-width="0.9"/>
<rect x="171.16" y="720.47" width="3.7" height="9.03" fill="#e8a197" stroke="#d9644f" stroke-width="0.9"/>
<rect x="174.86" y="719.6" width="3.7" height="9.9" fill="#e8a197" stroke="#d9644f" stroke-width="0.9"/>
<rect x="178.56" y="720.63" width="3.7" height="8.87" fill="#e8a197" stroke="#d9644f" stroke-width="0.9"/>
<rect x="182.26" y="720.63" width="3.7" height="8.87" fill="#e8a197" stroke="#d9644f" stroke-width="0.9"/>
<rect x="185.96" y="720.63" width="3.7" height="8.87" fill="#e8a197" stroke="#d9644f" stroke-width="0.9"/>
<rect x="189.66" y="718.49" width="3.7" height="11.01" fill="#e8a197" stroke="#d9644f" stroke-width="0.9"/>
<rect x="193.36" y="719.68" width="3.7" height="9.82" fill="#e8a197" stroke="#d9644f" stroke-width="0.9"/>
<rect x="197.06" y="718.49" width="3.7" height="11.01" fill="#e8a197" stroke="#d9644f" stroke-width="0.9"/>
<rect x="200.76" y="719.68" width="3.7" height="9.82" fill="#e8a197" stroke="#d9644f" stroke-width="0.9"/>
<rect x="204.46" y="718.49" width="3.7" height="11.01" fill="#e8a197" stroke="#d9644f" stroke-width="0.9"/>
<rect x="208.16" y="717.62" width="3.7" height="11.88" fill="#e8a197" stroke="#d9644f" stroke-width="0.9"/>
<rect x="211.86" y="718.02" width="3.7" height="11.48" fill="#e8a197" stroke="#d9644f" stroke-width="0.9"/>
<rect x="215.56" y="715.32" width="3.7" height="14.18" fill="#e8a197" stroke="#d9644f" stroke-width="0.9"/>
<rect x="219.26" y="717.62" width="3.7" height="11.88" fill="#e8a197" stroke="#d9644f" stroke-width="0.9"/>
<rect x="222.96" y="714.45" width="3.7" height="15.05" fill="#e8a197" stroke="#d9644f" stroke-width="0.9"/>
<rect x="226.66" y="715.32" width="3.7" height="14.18" fill="#e8a197" stroke="#d9644f" stroke-width="0.9"/>
<rect x="230.36" y="713.5" width="3.7" height="16" fill="#e8a197" stroke="#d9644f" stroke-width="0.9"/>
<rect x="234.06" y="712.31" width="3.7" height="17.19" fill="#e8a197" stroke="#d9644f" stroke-width="0.9"/>
<rect x="237.76" y="712.71" width="3.7" height="16.79" fill="#e8a197" stroke="#d9644f" stroke-width="0.9"/>
<rect x="241.46" y="712.71" width="3.7" height="16.79" fill="#e8a197" stroke="#d9644f" stroke-width="0.9"/>
<rect x="245.16" y="709.38" width="3.7" height="20.12" fill="#e8a197" stroke="#d9644f" stroke-width="0.9"/>
<rect x="248.86" y="705.82" width="3.7" height="23.68" fill="#e8a197" stroke="#d9644f" stroke-width="0.9"/>
<rect x="252.56" y="706.37" width="3.7" height="23.13" fill="#e8a197" stroke="#d9644f" stroke-width="0.9"/>
<rect x="256.26" y="704.47" width="3.7" height="25.03" fill="#e8a197" stroke="#d9644f" stroke-width="0.9"/>
<rect x="259.96" y="704.47" width="3.7" height="25.03" fill="#e8a197" stroke="#d9644f" stroke-width="0.9"/>
<rect x="263.66" y="702.49" width="3.7" height="27.01" fill="#e8a197" stroke="#d9644f" stroke-width="0.9"/>
<rect x="267.36" y="697.58" width="3.7" height="31.92" fill="#e8a197" stroke="#d9644f" stroke-width="0.9"/>
<rect x="271.06" y="700.59" width="3.7" height="28.91" fill="#e8a197" stroke="#d9644f" stroke-width="0.9"/>
<rect x="274.76" y="695.68" width="3.7" height="33.82" fill="#e8a197" stroke="#d9644f" stroke-width="0.9"/>
<rect x="278.46" y="697.03" width="3.7" height="32.47" fill="#e8a197" stroke="#d9644f" stroke-width="0.9"/>
<rect x="282.16" y="701.86" width="3.7" height="27.64" fill="#e8a197" stroke="#d9644f" stroke-width="0.9"/>
<rect x="285.86" y="709.38" width="3.7" height="20.12" fill="#e8a197" stroke="#d9644f" stroke-width="0.9"/>
<rect x="289.56" y="720.08" width="3.7" height="9.42" fill="#e8a197" stroke="#d9644f" stroke-width="0.9"/>
<rect x="293.26" y="726.97" width="3.7" height="2.53" fill="#e8a197" stroke="#d9644f" stroke-width="0.9"/>
<rect x="123.06" y="724.43" width="3.7" height="5.07" fill="#68acd6" stroke="#1a6fb0" stroke-width="0.9"/>
<rect x="126.76" y="714.45" width="3.7" height="15.05" fill="#68acd6" stroke="#1a6fb0" stroke-width="0.9"/>
<rect x="130.46" y="715.56" width="3.7" height="13.94" fill="#68acd6" stroke="#1a6fb0" stroke-width="0.9"/>
<rect x="134.16" y="716.59" width="3.7" height="12.91" fill="#68acd6" stroke="#1a6fb0" stroke-width="0.9"/>
<rect x="137.86" y="714.69" width="3.7" height="14.81" fill="#68acd6" stroke="#1a6fb0" stroke-width="0.9"/>
<rect x="141.56" y="716.51" width="3.7" height="12.99" fill="#68acd6" stroke="#1a6fb0" stroke-width="0.9"/>
<rect x="145.26" y="716.51" width="3.7" height="12.99" fill="#68acd6" stroke="#1a6fb0" stroke-width="0.9"/>
<rect x="148.96" y="716.59" width="3.7" height="12.91" fill="#68acd6" stroke="#1a6fb0" stroke-width="0.9"/>
<rect x="152.66" y="717.46" width="3.7" height="12.04" fill="#68acd6" stroke="#1a6fb0" stroke-width="0.9"/>
<rect x="156.36" y="715.56" width="3.7" height="13.94" fill="#68acd6" stroke="#1a6fb0" stroke-width="0.9"/>
<rect x="160.06" y="714.45" width="3.7" height="15.05" fill="#68acd6" stroke="#1a6fb0" stroke-width="0.9"/>
<rect x="163.76" y="716.51" width="3.7" height="12.99" fill="#68acd6" stroke="#1a6fb0" stroke-width="0.9"/>
<rect x="167.46" y="714.45" width="3.7" height="15.05" fill="#68acd6" stroke="#1a6fb0" stroke-width="0.9"/>
<rect x="171.16" y="712.79" width="3.7" height="16.71" fill="#68acd6" stroke="#1a6fb0" stroke-width="0.9"/>
<rect x="174.86" y="713.5" width="3.7" height="16" fill="#68acd6" stroke="#1a6fb0" stroke-width="0.9"/>
<rect x="178.56" y="714.69" width="3.7" height="14.81" fill="#68acd6" stroke="#1a6fb0" stroke-width="0.9"/>
<rect x="182.26" y="712.63" width="3.7" height="16.87" fill="#68acd6" stroke="#1a6fb0" stroke-width="0.9"/>
<rect x="185.96" y="711.68" width="3.7" height="17.82" fill="#68acd6" stroke="#1a6fb0" stroke-width="0.9"/>
<rect x="189.66" y="709.7" width="3.7" height="19.8" fill="#68acd6" stroke="#1a6fb0" stroke-width="0.9"/>
<rect x="193.36" y="710.57" width="3.7" height="18.93" fill="#68acd6" stroke="#1a6fb0" stroke-width="0.9"/>
<rect x="197.06" y="708.83" width="3.7" height="20.67" fill="#68acd6" stroke="#1a6fb0" stroke-width="0.9"/>
<rect x="200.76" y="709.7" width="3.7" height="19.8" fill="#68acd6" stroke="#1a6fb0" stroke-width="0.9"/>
<rect x="204.46" y="708.51" width="3.7" height="20.99" fill="#68acd6" stroke="#1a6fb0" stroke-width="0.9"/>
<rect x="208.16" y="708.99" width="3.7" height="20.51" fill="#68acd6" stroke="#1a6fb0" stroke-width="0.9"/>
<rect x="211.86" y="704.63" width="3.7" height="24.87" fill="#68acd6" stroke="#1a6fb0" stroke-width="0.9"/>
<rect x="215.56" y="704.63" width="3.7" height="24.87" fill="#68acd6" stroke="#1a6fb0" stroke-width="0.9"/>
<rect x="219.26" y="703.68" width="3.7" height="25.82" fill="#68acd6" stroke="#1a6fb0" stroke-width="0.9"/>
<rect x="222.96" y="701.46" width="3.7" height="28.04" fill="#68acd6" stroke="#1a6fb0" stroke-width="0.9"/>
<rect x="226.66" y="698.45" width="3.7" height="31.05" fill="#68acd6" stroke="#1a6fb0" stroke-width="0.9"/>
<rect x="230.36" y="697.74" width="3.7" height="31.76" fill="#68acd6" stroke="#1a6fb0" stroke-width="0.9"/>
<rect x="234.06" y="690.45" width="3.7" height="39.05" fill="#68acd6" stroke="#1a6fb0" stroke-width="0.9"/>
<rect x="237.76" y="689.42" width="3.7" height="40.08" fill="#68acd6" stroke="#1a6fb0" stroke-width="0.9"/>
<rect x="241.46" y="684.51" width="3.7" height="44.99" fill="#68acd6" stroke="#1a6fb0" stroke-width="0.9"/>
<rect x="245.16" y="677.47" width="3.7" height="52.03" fill="#68acd6" stroke="#1a6fb0" stroke-width="0.9"/>
<rect x="248.86" y="672.79" width="3.7" height="56.71" fill="#68acd6" stroke="#1a6fb0" stroke-width="0.9"/>
<rect x="252.56" y="669.15" width="3.7" height="60.35" fill="#68acd6" stroke="#1a6fb0" stroke-width="0.9"/>
<rect x="256.26" y="657.51" width="3.7" height="71.99" fill="#68acd6" stroke="#1a6fb0" stroke-width="0.9"/>
<rect x="259.96" y="651.01" width="3.7" height="78.49" fill="#68acd6" stroke="#1a6fb0" stroke-width="0.9"/>
<rect x="263.66" y="638.5" width="3.7" height="91" fill="#68acd6" stroke="#1a6fb0" stroke-width="0.9"/>
<rect x="267.36" y="622.26" width="3.7" height="107.24" fill="#68acd6" stroke="#1a6fb0" stroke-width="0.9"/>
<rect x="271.06" y="614.11" width="3.7" height="115.39" fill="#68acd6" stroke="#1a6fb0" stroke-width="0.9"/>
<rect x="274.76" y="596.36" width="3.7" height="133.14" fill="#68acd6" stroke="#1a6fb0" stroke-width="0.9"/>
<rect x="278.46" y="595.49" width="3.7" height="134.01" fill="#68acd6" stroke="#1a6fb0" stroke-width="0.9"/>
<rect x="282.16" y="597.39" width="3.7" height="132.11" fill="#68acd6" stroke="#1a6fb0" stroke-width="0.9"/>
<rect x="285.86" y="611.1" width="3.7" height="118.4" fill="#68acd6" stroke="#1a6fb0" stroke-width="0.9"/>
<rect x="289.56" y="673.66" width="3.7" height="55.84" fill="#68acd6" stroke="#1a6fb0" stroke-width="0.9"/>
<rect x="293.26" y="719.68" width="3.7" height="9.82" fill="#68acd6" stroke="#1a6fb0" stroke-width="0.9"/>
<rect x="123.51" y="725.7" width="2.8" height="3.8" fill="#6f8cad"/>
<line x1="123.51" y1="725.7" x2="126.31" y2="725.7" stroke="#66708a" stroke-width="0.8"/>
<rect x="127.21" y="719.52" width="2.8" height="9.98" fill="#6f8cad"/>
<line x1="127.21" y1="719.52" x2="130.01" y2="719.52" stroke="#66708a" stroke-width="0.8"/>
<rect x="130.91" y="718.17" width="2.8" height="11.33" fill="#6f8cad"/>
<line x1="130.91" y1="718.17" x2="133.71" y2="718.17" stroke="#66708a" stroke-width="0.8"/>
<rect x="134.61" y="721.26" width="2.8" height="8.24" fill="#6f8cad"/>
<line x1="134.61" y1="721.26" x2="137.41" y2="721.26" stroke="#66708a" stroke-width="0.8"/>
<rect x="138.31" y="719.12" width="2.8" height="10.38" fill="#6f8cad"/>
<line x1="138.31" y1="719.12" x2="141.11" y2="719.12" stroke="#66708a" stroke-width="0.8"/>
<rect x="142.01" y="719.52" width="2.8" height="9.98" fill="#6f8cad"/>
<line x1="142.01" y1="719.52" x2="144.81" y2="719.52" stroke="#66708a" stroke-width="0.8"/>
<rect x="145.71" y="720.39" width="2.8" height="9.11" fill="#6f8cad"/>
<line x1="145.71" y1="720.39" x2="148.51" y2="720.39" stroke="#66708a" stroke-width="0.8"/>
<rect x="149.41" y="720.39" width="2.8" height="9.11" fill="#6f8cad"/>
<line x1="149.41" y1="720.39" x2="152.21" y2="720.39" stroke="#66708a" stroke-width="0.8"/>
<rect x="153.11" y="721.26" width="2.8" height="8.24" fill="#6f8cad"/>
<line x1="153.11" y1="721.26" x2="155.91" y2="721.26" stroke="#66708a" stroke-width="0.8"/>
<rect x="156.81" y="720.39" width="2.8" height="9.11" fill="#6f8cad"/>
<line x1="156.81" y1="720.39" x2="159.61" y2="720.39" stroke="#66708a" stroke-width="0.8"/>
<rect x="160.51" y="718.73" width="2.8" height="10.77" fill="#6f8cad"/>
<line x1="160.51" y1="718.73" x2="163.31" y2="718.73" stroke="#66708a" stroke-width="0.8"/>
<rect x="164.21" y="722.37" width="2.8" height="7.13" fill="#6f8cad"/>
<line x1="164.21" y1="722.37" x2="167.01" y2="722.37" stroke="#66708a" stroke-width="0.8"/>
<rect x="167.91" y="720.39" width="2.8" height="9.11" fill="#6f8cad"/>
<line x1="167.91" y1="720.39" x2="170.71" y2="720.39" stroke="#66708a" stroke-width="0.8"/>
<rect x="171.61" y="720.47" width="2.8" height="9.03" fill="#6f8cad"/>
<line x1="171.61" y1="720.47" x2="174.41" y2="720.47" stroke="#66708a" stroke-width="0.8"/>
<rect x="175.31" y="719.6" width="2.8" height="9.9" fill="#6f8cad"/>
<line x1="175.31" y1="719.6" x2="178.11" y2="719.6" stroke="#66708a" stroke-width="0.8"/>
<rect x="179.01" y="720.63" width="2.8" height="8.87" fill="#6f8cad"/>
<line x1="179.01" y1="720.63" x2="181.81" y2="720.63" stroke="#66708a" stroke-width="0.8"/>
<rect x="182.71" y="720.63" width="2.8" height="8.87" fill="#6f8cad"/>
<line x1="182.71" y1="720.63" x2="185.51" y2="720.63" stroke="#66708a" stroke-width="0.8"/>
<rect x="186.41" y="720.63" width="2.8" height="8.87" fill="#6f8cad"/>
<line x1="186.41" y1="720.63" x2="189.21" y2="720.63" stroke="#66708a" stroke-width="0.8"/>
<rect x="190.11" y="718.49" width="2.8" height="11.01" fill="#6f8cad"/>
<line x1="190.11" y1="718.49" x2="192.91" y2="718.49" stroke="#66708a" stroke-width="0.8"/>
<rect x="193.81" y="719.68" width="2.8" height="9.82" fill="#6f8cad"/>
<line x1="193.81" y1="719.68" x2="196.61" y2="719.68" stroke="#66708a" stroke-width="0.8"/>
<rect x="197.51" y="718.49" width="2.8" height="11.01" fill="#6f8cad"/>
<line x1="197.51" y1="718.49" x2="200.31" y2="718.49" stroke="#66708a" stroke-width="0.8"/>
<rect x="201.21" y="719.68" width="2.8" height="9.82" fill="#6f8cad"/>
<line x1="201.21" y1="719.68" x2="204.01" y2="719.68" stroke="#66708a" stroke-width="0.8"/>
<rect x="204.91" y="718.49" width="2.8" height="11.01" fill="#6f8cad"/>
<line x1="204.91" y1="718.49" x2="207.71" y2="718.49" stroke="#66708a" stroke-width="0.8"/>
<rect x="208.61" y="717.62" width="2.8" height="11.88" fill="#6f8cad"/>
<line x1="208.61" y1="717.62" x2="211.41" y2="717.62" stroke="#66708a" stroke-width="0.8"/>
<rect x="212.31" y="718.02" width="2.8" height="11.48" fill="#6f8cad"/>
<line x1="212.31" y1="718.02" x2="215.11" y2="718.02" stroke="#66708a" stroke-width="0.8"/>
<rect x="216.01" y="715.32" width="2.8" height="14.18" fill="#6f8cad"/>
<line x1="216.01" y1="715.32" x2="218.81" y2="715.32" stroke="#66708a" stroke-width="0.8"/>
<rect x="219.71" y="717.62" width="2.8" height="11.88" fill="#6f8cad"/>
<line x1="219.71" y1="717.62" x2="222.51" y2="717.62" stroke="#66708a" stroke-width="0.8"/>
<rect x="223.41" y="714.45" width="2.8" height="15.05" fill="#6f8cad"/>
<line x1="223.41" y1="714.45" x2="226.21" y2="714.45" stroke="#66708a" stroke-width="0.8"/>
<rect x="227.11" y="715.32" width="2.8" height="14.18" fill="#6f8cad"/>
<line x1="227.11" y1="715.32" x2="229.91" y2="715.32" stroke="#66708a" stroke-width="0.8"/>
<rect x="230.81" y="713.5" width="2.8" height="16" fill="#6f8cad"/>
<line x1="230.81" y1="713.5" x2="233.61" y2="713.5" stroke="#66708a" stroke-width="0.8"/>
<rect x="234.51" y="712.31" width="2.8" height="17.19" fill="#6f8cad"/>
<line x1="234.51" y1="712.31" x2="237.31" y2="712.31" stroke="#66708a" stroke-width="0.8"/>
<rect x="238.21" y="712.71" width="2.8" height="16.79" fill="#6f8cad"/>
<line x1="238.21" y1="712.71" x2="241.01" y2="712.71" stroke="#66708a" stroke-width="0.8"/>
<rect x="241.91" y="712.71" width="2.8" height="16.79" fill="#6f8cad"/>
<line x1="241.91" y1="712.71" x2="244.71" y2="712.71" stroke="#66708a" stroke-width="0.8"/>
<rect x="245.61" y="709.38" width="2.8" height="20.12" fill="#6f8cad"/>
<line x1="245.61" y1="709.38" x2="248.41" y2="709.38" stroke="#66708a" stroke-width="0.8"/>
<rect x="249.31" y="705.82" width="2.8" height="23.68" fill="#6f8cad"/>
<line x1="249.31" y1="705.82" x2="252.11" y2="705.82" stroke="#66708a" stroke-width="0.8"/>
<rect x="253.01" y="706.37" width="2.8" height="23.13" fill="#6f8cad"/>
<line x1="253.01" y1="706.37" x2="255.81" y2="706.37" stroke="#66708a" stroke-width="0.8"/>
<rect x="256.71" y="704.47" width="2.8" height="25.03" fill="#6f8cad"/>
<line x1="256.71" y1="704.47" x2="259.51" y2="704.47" stroke="#66708a" stroke-width="0.8"/>
<rect x="260.41" y="704.47" width="2.8" height="25.03" fill="#6f8cad"/>
<line x1="260.41" y1="704.47" x2="263.21" y2="704.47" stroke="#66708a" stroke-width="0.8"/>
<rect x="264.11" y="702.49" width="2.8" height="27.01" fill="#6f8cad"/>
<line x1="264.11" y1="702.49" x2="266.91" y2="702.49" stroke="#66708a" stroke-width="0.8"/>
<rect x="267.81" y="697.58" width="2.8" height="31.92" fill="#6f8cad"/>
<line x1="267.81" y1="697.58" x2="270.61" y2="697.58" stroke="#66708a" stroke-width="0.8"/>
<rect x="271.51" y="700.59" width="2.8" height="28.91" fill="#6f8cad"/>
<line x1="271.51" y1="700.59" x2="274.31" y2="700.59" stroke="#66708a" stroke-width="0.8"/>
<rect x="275.21" y="695.68" width="2.8" height="33.82" fill="#6f8cad"/>
<line x1="275.21" y1="695.68" x2="278.01" y2="695.68" stroke="#66708a" stroke-width="0.8"/>
<rect x="278.91" y="697.03" width="2.8" height="32.47" fill="#6f8cad"/>
<line x1="278.91" y1="697.03" x2="281.71" y2="697.03" stroke="#66708a" stroke-width="0.8"/>
<rect x="282.61" y="701.86" width="2.8" height="27.64" fill="#6f8cad"/>
<line x1="282.61" y1="701.86" x2="285.41" y2="701.86" stroke="#66708a" stroke-width="0.8"/>
<rect x="286.31" y="709.38" width="2.8" height="20.12" fill="#6f8cad"/>
<line x1="286.31" y1="709.38" x2="289.11" y2="709.38" stroke="#66708a" stroke-width="0.8"/>
<rect x="290.01" y="720.08" width="2.8" height="9.42" fill="#6f8cad"/>
<line x1="290.01" y1="720.08" x2="292.81" y2="720.08" stroke="#66708a" stroke-width="0.8"/>
<rect x="293.71" y="726.97" width="2.8" height="2.53" fill="#6f8cad"/>
<line x1="293.71" y1="726.97" x2="296.51" y2="726.97" stroke="#66708a" stroke-width="0.8"/>
<polyline points="125.5,612.68 129.4,611.29 132.6,616.24 135.4,609.31 139,611.1 143,616.64 148.1,613.08 154.6,611.1 160.6,611.1 163.7,605.35 167.1,600.6 171,602.78 175.7,605.75 180.9,607.14 185.3,601 190.5,601 197.5,602.19 202.4,598.23 207.7,602.19 211.2,600.4 213.3,594.46 216.8,600.01 221.7,596.05 225.2,599.61 229.4,594.46 234,594.46 239.6,590.9 244.5,586.35 250.1,589.91 255.7,585.16 260.6,580.41 266.7,577.04 271.5,572.29 277.2,571.69 282.5,567.14 286.9,561.2 293,560.61 295.2,560.61" fill="none" stroke="#5e3c99" stroke-width="3.5" stroke-dasharray="3.7 3.1" stroke-linejoin="round"/>
</g>
<line x1="71" y1="531.9" x2="298" y2="531.9" stroke="#3a3a3a" stroke-width="1"/>
<line x1="71.5" y1="729.5" x2="297.5" y2="729.5" stroke="#3a3a3a" stroke-width="1"/>
<line x1="71.5" y1="531" x2="71.5" y2="730" stroke="#3a3a3a" stroke-width="1"/>
<line x1="297.5" y1="531" x2="297.5" y2="730" stroke="#5e3c99" stroke-width="1"/>
<line x1="71.5" y1="729.5" x2="74" y2="729.5" stroke="#3a3a3a" stroke-width="1"/>
<line x1="71.5" y1="689.5" x2="74" y2="689.5" stroke="#3a3a3a" stroke-width="1"/>
<line x1="71.5" y1="650.5" x2="74" y2="650.5" stroke="#3a3a3a" stroke-width="1"/>
<line x1="71.5" y1="610.5" x2="74" y2="610.5" stroke="#3a3a3a" stroke-width="1"/>
<line x1="71.5" y1="571.5" x2="74" y2="571.5" stroke="#3a3a3a" stroke-width="1"/>
<line x1="71.5" y1="531.5" x2="74" y2="531.5" stroke="#3a3a3a" stroke-width="1"/>
<line x1="297.5" y1="729.5" x2="295" y2="729.5" stroke="#5e3c99" stroke-width="1"/>
<line x1="297.5" y1="689.5" x2="295" y2="689.5" stroke="#5e3c99" stroke-width="1"/>
<line x1="297.5" y1="650.5" x2="295" y2="650.5" stroke="#5e3c99" stroke-width="1"/>
<line x1="297.5" y1="610.5" x2="295" y2="610.5" stroke="#5e3c99" stroke-width="1"/>
<line x1="297.5" y1="571.5" x2="295" y2="571.5" stroke="#5e3c99" stroke-width="1"/>
<line x1="297.5" y1="531.5" x2="295" y2="531.5" stroke="#5e3c99" stroke-width="1"/>
<line x1="113.5" y1="729.5" x2="113.5" y2="727" stroke="#3a3a3a" stroke-width="1"/>
<line x1="113.5" y1="531.5" x2="113.5" y2="534" stroke="#3a3a3a" stroke-width="1"/>
<line x1="162.5" y1="729.5" x2="162.5" y2="727" stroke="#3a3a3a" stroke-width="1"/>
<line x1="162.5" y1="531.5" x2="162.5" y2="534" stroke="#3a3a3a" stroke-width="1"/>
<line x1="211.5" y1="729.5" x2="211.5" y2="727" stroke="#3a3a3a" stroke-width="1"/>
<line x1="211.5" y1="531.5" x2="211.5" y2="534" stroke="#3a3a3a" stroke-width="1"/>
<line x1="260.5" y1="729.5" x2="260.5" y2="727" stroke="#3a3a3a" stroke-width="1"/>
<line x1="260.5" y1="531.5" x2="260.5" y2="534" stroke="#3a3a3a" stroke-width="1"/>
<text x="66.2" y="736.7" font-size="17" text-anchor="end" stroke="#161616" stroke-width="0.18" fill="#161616" textLength="9.5" lengthAdjust="spacingAndGlyphs">0</text>
<text x="66.2" y="697.06" font-size="17" text-anchor="end" stroke="#161616" stroke-width="0.18" fill="#161616" textLength="30" lengthAdjust="spacingAndGlyphs">500</text>
<text x="66.2" y="657.42" font-size="17" text-anchor="end" stroke="#161616" stroke-width="0.18" fill="#161616" textLength="39.8" lengthAdjust="spacingAndGlyphs">1000</text>
<text x="66.2" y="617.78" font-size="17" text-anchor="end" stroke="#161616" stroke-width="0.18" fill="#161616" textLength="39.8" lengthAdjust="spacingAndGlyphs">1500</text>
<text x="66.2" y="578.14" font-size="17" text-anchor="end" stroke="#161616" stroke-width="0.18" fill="#161616" textLength="39.8" lengthAdjust="spacingAndGlyphs">2000</text>
<text x="66.2" y="538.5" font-size="17" text-anchor="end" stroke="#161616" stroke-width="0.18" fill="#161616" textLength="39.8" lengthAdjust="spacingAndGlyphs">2500</text>
<text x="301.9" y="735.1" font-size="17" stroke="#6a4da6" stroke-width="0.18" fill="#6a4da6" textLength="7.5" lengthAdjust="spacingAndGlyphs">0</text>
<text x="301.9" y="695.5" font-size="17" stroke="#6a4da6" stroke-width="0.18" fill="#6a4da6" textLength="26" lengthAdjust="spacingAndGlyphs">0.2</text>
<text x="301.9" y="655.9" font-size="17" stroke="#6a4da6" stroke-width="0.18" fill="#6a4da6" textLength="26" lengthAdjust="spacingAndGlyphs">0.4</text>
<text x="301.9" y="616.3" font-size="17" stroke="#6a4da6" stroke-width="0.18" fill="#6a4da6" textLength="26" lengthAdjust="spacingAndGlyphs">0.6</text>
<text x="301.9" y="576.7" font-size="17" stroke="#6a4da6" stroke-width="0.18" fill="#6a4da6" textLength="26" lengthAdjust="spacingAndGlyphs">0.8</text>
<text x="301.9" y="537.1" font-size="17" stroke="#6a4da6" stroke-width="0.18" fill="#6a4da6" textLength="7.5" lengthAdjust="spacingAndGlyphs">1</text>
<text x="113.3" y="746" font-size="17" text-anchor="middle" stroke="#161616" stroke-width="0.18" fill="#161616" textLength="26" lengthAdjust="spacingAndGlyphs">0.2</text>
<text x="162.4" y="746" font-size="17" text-anchor="middle" stroke="#161616" stroke-width="0.18" fill="#161616" textLength="26" lengthAdjust="spacingAndGlyphs">0.4</text>
<text x="211.4" y="746" font-size="17" text-anchor="middle" stroke="#161616" stroke-width="0.18" fill="#161616" textLength="26" lengthAdjust="spacingAndGlyphs">0.6</text>
<text x="260.9" y="746" font-size="17" text-anchor="middle" stroke="#161616" stroke-width="0.18" fill="#161616" textLength="26" lengthAdjust="spacingAndGlyphs">0.8</text>
<text x="176.69" y="526.8" font-size="16.8" stroke="#161616" stroke-width="0.18" fill="#161616" textLength="9" lengthAdjust="spacingAndGlyphs">F</text>
<path d="M186.4 515.04h5.4v1.21h-1.99v9.34h1.99v1.21h-5.4v-1.21h1.99v-9.34z" fill="#161616"/>
<text x="13.4" y="631.7" font-size="16.3" text-anchor="middle" stroke="#161616" stroke-width="0.18" fill="#161616" textLength="47.5" lengthAdjust="spacingAndGlyphs" transform="rotate(-90 13.4 631.7)">Count</text>
<line x1="400.5" y1="680.5" x2="626.5" y2="680.5" stroke="rgba(38,38,38,0.155)" stroke-width="1"/>
<line x1="400.5" y1="630.5" x2="626.5" y2="630.5" stroke="rgba(38,38,38,0.155)" stroke-width="1"/>
<line x1="400.5" y1="581.5" x2="626.5" y2="581.5" stroke="rgba(38,38,38,0.155)" stroke-width="1"/>
<line x1="475.76" y1="531.5" x2="475.76" y2="729.5" stroke="rgba(38,38,38,0.155)" stroke-width="1"/>
<line x1="551.02" y1="531.5" x2="551.02" y2="729.5" stroke="rgba(38,38,38,0.155)" stroke-width="1"/>
<g clip-path="url(#c3)">
<rect x="404.27" y="728.61" width="3.77" height="0.89" fill="#e8a197" stroke="#d9644f" stroke-width="0.9"/>
<rect x="408.04" y="728.21" width="3.77" height="1.29" fill="#e8a197" stroke="#d9644f" stroke-width="0.9"/>
<rect x="411.8" y="727.72" width="3.77" height="1.78" fill="#e8a197" stroke="#d9644f" stroke-width="0.9"/>
<rect x="415.57" y="725.54" width="3.77" height="3.96" fill="#e8a197" stroke="#d9644f" stroke-width="0.9"/>
<rect x="419.34" y="724.15" width="3.77" height="5.35" fill="#e8a197" stroke="#d9644f" stroke-width="0.9"/>
<rect x="423.11" y="722.47" width="3.77" height="7.03" fill="#e8a197" stroke="#d9644f" stroke-width="0.9"/>
<rect x="426.87" y="718.51" width="3.77" height="10.99" fill="#e8a197" stroke="#d9644f" stroke-width="0.9"/>
<rect x="430.64" y="711.98" width="3.77" height="17.52" fill="#e8a197" stroke="#d9644f" stroke-width="0.9"/>
<rect x="434.41" y="708.02" width="3.77" height="21.48" fill="#e8a197" stroke="#d9644f" stroke-width="0.9"/>
<rect x="438.18" y="705.44" width="3.77" height="24.06" fill="#e8a197" stroke="#d9644f" stroke-width="0.9"/>
<rect x="441.94" y="703.17" width="3.77" height="26.33" fill="#e8a197" stroke="#d9644f" stroke-width="0.9"/>
<rect x="445.71" y="698.81" width="3.77" height="30.69" fill="#e8a197" stroke="#d9644f" stroke-width="0.9"/>
<rect x="449.48" y="696.53" width="3.77" height="32.97" fill="#e8a197" stroke="#d9644f" stroke-width="0.9"/>
<rect x="453.25" y="698.02" width="3.77" height="31.48" fill="#e8a197" stroke="#d9644f" stroke-width="0.9"/>
<rect x="457.01" y="697.42" width="3.77" height="32.08" fill="#e8a197" stroke="#d9644f" stroke-width="0.9"/>
<rect x="460.78" y="699.21" width="3.77" height="30.29" fill="#e8a197" stroke="#d9644f" stroke-width="0.9"/>
<rect x="464.55" y="706.24" width="3.77" height="23.27" fill="#e8a197" stroke="#d9644f" stroke-width="0.9"/>
<rect x="468.31" y="702.87" width="3.77" height="26.63" fill="#e8a197" stroke="#d9644f" stroke-width="0.9"/>
<rect x="472.08" y="709.3" width="3.77" height="20.2" fill="#e8a197" stroke="#d9644f" stroke-width="0.9"/>
<rect x="475.85" y="704.65" width="3.77" height="24.85" fill="#e8a197" stroke="#d9644f" stroke-width="0.9"/>
<rect x="479.62" y="704.65" width="3.77" height="24.85" fill="#e8a197" stroke="#d9644f" stroke-width="0.9"/>
<rect x="483.38" y="706.24" width="3.77" height="23.27" fill="#e8a197" stroke="#d9644f" stroke-width="0.9"/>
<rect x="487.15" y="704.65" width="3.77" height="24.85" fill="#e8a197" stroke="#d9644f" stroke-width="0.9"/>
<rect x="490.92" y="704.16" width="3.77" height="25.34" fill="#e8a197" stroke="#d9644f" stroke-width="0.9"/>
<rect x="494.69" y="702.87" width="3.77" height="26.63" fill="#e8a197" stroke="#d9644f" stroke-width="0.9"/>
<rect x="498.45" y="705.44" width="3.77" height="24.06" fill="#e8a197" stroke="#d9644f" stroke-width="0.9"/>
<rect x="502.22" y="702.87" width="3.77" height="26.63" fill="#e8a197" stroke="#d9644f" stroke-width="0.9"/>
<rect x="505.99" y="706.53" width="3.77" height="22.97" fill="#e8a197" stroke="#d9644f" stroke-width="0.9"/>
<rect x="509.76" y="705.25" width="3.77" height="24.26" fill="#e8a197" stroke="#d9644f" stroke-width="0.9"/>
<rect x="513.52" y="708.61" width="3.77" height="20.89" fill="#e8a197" stroke="#d9644f" stroke-width="0.9"/>
<rect x="517.29" y="706.53" width="3.77" height="22.97" fill="#e8a197" stroke="#d9644f" stroke-width="0.9"/>
<rect x="521.06" y="707.82" width="3.77" height="21.68" fill="#e8a197" stroke="#d9644f" stroke-width="0.9"/>
<rect x="524.83" y="705.25" width="3.77" height="24.26" fill="#e8a197" stroke="#d9644f" stroke-width="0.9"/>
<rect x="528.6" y="704.55" width="3.77" height="24.95" fill="#e8a197" stroke="#d9644f" stroke-width="0.9"/>
<rect x="532.36" y="701.38" width="3.77" height="28.12" fill="#e8a197" stroke="#d9644f" stroke-width="0.9"/>
<rect x="536.13" y="703.46" width="3.77" height="26.04" fill="#e8a197" stroke="#d9644f" stroke-width="0.9"/>
<rect x="539.9" y="703.17" width="3.77" height="26.33" fill="#e8a197" stroke="#d9644f" stroke-width="0.9"/>
<rect x="543.66" y="709.11" width="3.77" height="20.39" fill="#e8a197" stroke="#d9644f" stroke-width="0.9"/>
<rect x="547.43" y="714.85" width="3.77" height="14.65" fill="#e8a197" stroke="#d9644f" stroke-width="0.9"/>
<rect x="551.2" y="715.64" width="3.77" height="13.86" fill="#e8a197" stroke="#d9644f" stroke-width="0.9"/>
<rect x="554.97" y="719.11" width="3.77" height="10.4" fill="#e8a197" stroke="#d9644f" stroke-width="0.9"/>
<rect x="558.74" y="720.39" width="3.77" height="9.11" fill="#e8a197" stroke="#d9644f" stroke-width="0.9"/>
<rect x="562.5" y="722.67" width="3.77" height="6.83" fill="#e8a197" stroke="#d9644f" stroke-width="0.9"/>
<rect x="566.27" y="724.25" width="3.77" height="5.25" fill="#e8a197" stroke="#d9644f" stroke-width="0.9"/>
<rect x="570.04" y="726.13" width="3.77" height="3.37" fill="#e8a197" stroke="#d9644f" stroke-width="0.9"/>
<rect x="573.81" y="727.22" width="3.77" height="2.28" fill="#e8a197" stroke="#d9644f" stroke-width="0.9"/>
<rect x="577.57" y="728.31" width="3.77" height="1.19" fill="#e8a197" stroke="#d9644f" stroke-width="0.9"/>
<rect x="581.34" y="728.91" width="3.77" height="0.59" fill="#e8a197" stroke="#d9644f" stroke-width="0.9"/>
<rect x="585.11" y="729.1" width="3.77" height="0.4" fill="#e8a197" stroke="#d9644f" stroke-width="0.9"/>
<rect x="588.88" y="729.3" width="3.77" height="0.2" fill="#e8a197" stroke="#d9644f" stroke-width="0.9"/>
<rect x="423.11" y="728.71" width="3.77" height="0.79" fill="#68acd6" stroke="#1a6fb0" stroke-width="0.9"/>
<rect x="426.87" y="728.21" width="3.77" height="1.29" fill="#68acd6" stroke="#1a6fb0" stroke-width="0.9"/>
<rect x="430.64" y="727.32" width="3.77" height="2.18" fill="#68acd6" stroke="#1a6fb0" stroke-width="0.9"/>
<rect x="434.41" y="723.76" width="3.77" height="5.74" fill="#68acd6" stroke="#1a6fb0" stroke-width="0.9"/>
<rect x="438.18" y="721.98" width="3.77" height="7.52" fill="#68acd6" stroke="#1a6fb0" stroke-width="0.9"/>
<rect x="441.94" y="715.05" width="3.77" height="14.45" fill="#68acd6" stroke="#1a6fb0" stroke-width="0.9"/>
<rect x="445.71" y="711.98" width="3.77" height="17.52" fill="#68acd6" stroke="#1a6fb0" stroke-width="0.9"/>
<rect x="449.48" y="707.52" width="3.77" height="21.98" fill="#68acd6" stroke="#1a6fb0" stroke-width="0.9"/>
<rect x="453.25" y="703.26" width="3.77" height="26.24" fill="#68acd6" stroke="#1a6fb0" stroke-width="0.9"/>
<rect x="457.01" y="700.39" width="3.77" height="29.11" fill="#68acd6" stroke="#1a6fb0" stroke-width="0.9"/>
<rect x="460.78" y="694.45" width="3.77" height="35.05" fill="#68acd6" stroke="#1a6fb0" stroke-width="0.9"/>
<rect x="464.55" y="685.35" width="3.77" height="44.15" fill="#68acd6" stroke="#1a6fb0" stroke-width="0.9"/>
<rect x="468.31" y="685.35" width="3.77" height="44.15" fill="#68acd6" stroke="#1a6fb0" stroke-width="0.9"/>
<rect x="472.08" y="682.77" width="3.77" height="46.73" fill="#68acd6" stroke="#1a6fb0" stroke-width="0.9"/>
<rect x="475.85" y="681.98" width="3.77" height="47.52" fill="#68acd6" stroke="#1a6fb0" stroke-width="0.9"/>
<rect x="479.62" y="677.33" width="3.77" height="52.17" fill="#68acd6" stroke="#1a6fb0" stroke-width="0.9"/>
<rect x="483.38" y="679.41" width="3.77" height="50.09" fill="#68acd6" stroke="#1a6fb0" stroke-width="0.9"/>
<rect x="487.15" y="674.26" width="3.77" height="55.24" fill="#68acd6" stroke="#1a6fb0" stroke-width="0.9"/>
<rect x="490.92" y="665.15" width="3.77" height="64.35" fill="#68acd6" stroke="#1a6fb0" stroke-width="0.9"/>
<rect x="494.69" y="663.86" width="3.77" height="65.64" fill="#68acd6" stroke="#1a6fb0" stroke-width="0.9"/>
<rect x="498.45" y="662.48" width="3.77" height="67.02" fill="#68acd6" stroke="#1a6fb0" stroke-width="0.9"/>
<rect x="502.22" y="656.83" width="3.77" height="72.67" fill="#68acd6" stroke="#1a6fb0" stroke-width="0.9"/>
<rect x="505.99" y="651.78" width="3.77" height="77.72" fill="#68acd6" stroke="#1a6fb0" stroke-width="0.9"/>
<rect x="509.76" y="651.98" width="3.77" height="77.52" fill="#68acd6" stroke="#1a6fb0" stroke-width="0.9"/>
<rect x="513.52" y="649.21" width="3.77" height="80.29" fill="#68acd6" stroke="#1a6fb0" stroke-width="0.9"/>
<rect x="517.29" y="628.02" width="3.77" height="101.48" fill="#68acd6" stroke="#1a6fb0" stroke-width="0.9"/>
<rect x="521.06" y="620.7" width="3.77" height="108.8" fill="#68acd6" stroke="#1a6fb0" stroke-width="0.9"/>
<rect x="524.83" y="608.23" width="3.77" height="121.28" fill="#68acd6" stroke="#1a6fb0" stroke-width="0.9"/>
<rect x="528.6" y="605.06" width="3.77" height="124.44" fill="#68acd6" stroke="#1a6fb0" stroke-width="0.9"/>
<rect x="532.36" y="596.54" width="3.77" height="132.96" fill="#68acd6" stroke="#1a6fb0" stroke-width="0.9"/>
<rect x="536.13" y="598.62" width="3.77" height="130.88" fill="#68acd6" stroke="#1a6fb0" stroke-width="0.9"/>
<rect x="539.9" y="597.83" width="3.77" height="131.67" fill="#68acd6" stroke="#1a6fb0" stroke-width="0.9"/>
<rect x="543.66" y="616.74" width="3.77" height="112.76" fill="#68acd6" stroke="#1a6fb0" stroke-width="0.9"/>
<rect x="547.43" y="634.26" width="3.77" height="95.24" fill="#68acd6" stroke="#1a6fb0" stroke-width="0.9"/>
<rect x="551.2" y="648.02" width="3.77" height="81.48" fill="#68acd6" stroke="#1a6fb0" stroke-width="0.9"/>
<rect x="554.97" y="672.77" width="3.77" height="56.73" fill="#68acd6" stroke="#1a6fb0" stroke-width="0.9"/>
<rect x="558.74" y="682.67" width="3.77" height="46.83" fill="#68acd6" stroke="#1a6fb0" stroke-width="0.9"/>
<rect x="562.5" y="694.06" width="3.77" height="35.44" fill="#68acd6" stroke="#1a6fb0" stroke-width="0.9"/>
<rect x="566.27" y="704.75" width="3.77" height="24.75" fill="#68acd6" stroke="#1a6fb0" stroke-width="0.9"/>
<rect x="570.04" y="711.28" width="3.77" height="18.22" fill="#68acd6" stroke="#1a6fb0" stroke-width="0.9"/>
<rect x="573.81" y="716.13" width="3.77" height="13.37" fill="#68acd6" stroke="#1a6fb0" stroke-width="0.9"/>
<rect x="577.57" y="722.17" width="3.77" height="7.33" fill="#68acd6" stroke="#1a6fb0" stroke-width="0.9"/>
<rect x="581.34" y="722.67" width="3.77" height="6.83" fill="#68acd6" stroke="#1a6fb0" stroke-width="0.9"/>
<rect x="585.11" y="726.13" width="3.77" height="3.37" fill="#68acd6" stroke="#1a6fb0" stroke-width="0.9"/>
<rect x="588.88" y="726.63" width="3.77" height="2.87" fill="#68acd6" stroke="#1a6fb0" stroke-width="0.9"/>
<rect x="592.64" y="728.21" width="3.77" height="1.29" fill="#68acd6" stroke="#1a6fb0" stroke-width="0.9"/>
<rect x="596.41" y="729" width="3.77" height="0.49" fill="#68acd6" stroke="#1a6fb0" stroke-width="0.9"/>
<rect x="600.18" y="729.3" width="3.77" height="0.2" fill="#68acd6" stroke="#1a6fb0" stroke-width="0.9"/>
<rect x="423.56" y="729.16" width="2.87" height="0.34" fill="#6f8cad"/>
<rect x="427.32" y="728.66" width="2.87" height="0.84" fill="#6f8cad"/>
<rect x="431.09" y="727.77" width="2.87" height="1.73" fill="#6f8cad"/>
<rect x="434.86" y="724.21" width="2.87" height="5.29" fill="#6f8cad"/>
<rect x="438.62" y="722.43" width="2.87" height="7.07" fill="#6f8cad"/>
<rect x="442.39" y="715.5" width="2.87" height="14" fill="#6f8cad"/>
<rect x="446.16" y="712.43" width="2.87" height="17.07" fill="#6f8cad"/>
<rect x="449.93" y="707.97" width="2.87" height="21.53" fill="#6f8cad"/>
<rect x="453.69" y="703.72" width="2.87" height="25.79" fill="#6f8cad"/>
<rect x="457.46" y="700.84" width="2.87" height="28.66" fill="#6f8cad"/>
<rect x="461.23" y="699.21" width="2.87" height="30.29" fill="#6f8cad"/>
<line x1="461.23" y1="699.21" x2="464.1" y2="699.21" stroke="#66708a" stroke-width="0.8"/>
<rect x="465" y="706.24" width="2.87" height="23.27" fill="#6f8cad"/>
<line x1="465" y1="706.24" x2="467.87" y2="706.24" stroke="#66708a" stroke-width="0.8"/>
<rect x="468.76" y="702.87" width="2.87" height="26.63" fill="#6f8cad"/>
<line x1="468.76" y1="702.87" x2="471.63" y2="702.87" stroke="#66708a" stroke-width="0.8"/>
<rect x="472.53" y="709.3" width="2.87" height="20.2" fill="#6f8cad"/>
<line x1="472.53" y1="709.3" x2="475.4" y2="709.3" stroke="#66708a" stroke-width="0.8"/>
<rect x="476.3" y="704.65" width="2.87" height="24.85" fill="#6f8cad"/>
<line x1="476.3" y1="704.65" x2="479.17" y2="704.65" stroke="#66708a" stroke-width="0.8"/>
<rect x="480.07" y="704.65" width="2.87" height="24.85" fill="#6f8cad"/>
<line x1="480.07" y1="704.65" x2="482.94" y2="704.65" stroke="#66708a" stroke-width="0.8"/>
<rect x="483.83" y="706.24" width="2.87" height="23.27" fill="#6f8cad"/>
<line x1="483.83" y1="706.24" x2="486.7" y2="706.24" stroke="#66708a" stroke-width="0.8"/>
<rect x="487.6" y="704.65" width="2.87" height="24.85" fill="#6f8cad"/>
<line x1="487.6" y1="704.65" x2="490.47" y2="704.65" stroke="#66708a" stroke-width="0.8"/>
<rect x="491.37" y="704.16" width="2.87" height="25.34" fill="#6f8cad"/>
<line x1="491.37" y1="704.16" x2="494.24" y2="704.16" stroke="#66708a" stroke-width="0.8"/>
<rect x="495.14" y="702.87" width="2.87" height="26.63" fill="#6f8cad"/>
<line x1="495.14" y1="702.87" x2="498" y2="702.87" stroke="#66708a" stroke-width="0.8"/>
<rect x="498.9" y="705.44" width="2.87" height="24.06" fill="#6f8cad"/>
<line x1="498.9" y1="705.44" x2="501.77" y2="705.44" stroke="#66708a" stroke-width="0.8"/>
<rect x="502.67" y="702.87" width="2.87" height="26.63" fill="#6f8cad"/>
<line x1="502.67" y1="702.87" x2="505.54" y2="702.87" stroke="#66708a" stroke-width="0.8"/>
<rect x="506.44" y="706.53" width="2.87" height="22.97" fill="#6f8cad"/>
<line x1="506.44" y1="706.53" x2="509.31" y2="706.53" stroke="#66708a" stroke-width="0.8"/>
<rect x="510.21" y="705.25" width="2.87" height="24.26" fill="#6f8cad"/>
<line x1="510.21" y1="705.25" x2="513.07" y2="705.25" stroke="#66708a" stroke-width="0.8"/>
<rect x="513.98" y="708.61" width="2.87" height="20.89" fill="#6f8cad"/>
<line x1="513.98" y1="708.61" x2="516.84" y2="708.61" stroke="#66708a" stroke-width="0.8"/>
<rect x="517.74" y="706.53" width="2.87" height="22.97" fill="#6f8cad"/>
<line x1="517.74" y1="706.53" x2="520.61" y2="706.53" stroke="#66708a" stroke-width="0.8"/>
<rect x="521.51" y="707.82" width="2.87" height="21.68" fill="#6f8cad"/>
<line x1="521.51" y1="707.82" x2="524.38" y2="707.82" stroke="#66708a" stroke-width="0.8"/>
<rect x="525.28" y="705.25" width="2.87" height="24.26" fill="#6f8cad"/>
<line x1="525.28" y1="705.25" x2="528.14" y2="705.25" stroke="#66708a" stroke-width="0.8"/>
<rect x="529.05" y="704.55" width="2.87" height="24.95" fill="#6f8cad"/>
<line x1="529.05" y1="704.55" x2="531.91" y2="704.55" stroke="#66708a" stroke-width="0.8"/>
<rect x="532.81" y="701.38" width="2.87" height="28.12" fill="#6f8cad"/>
<line x1="532.81" y1="701.38" x2="535.68" y2="701.38" stroke="#66708a" stroke-width="0.8"/>
<rect x="536.58" y="703.46" width="2.87" height="26.04" fill="#6f8cad"/>
<line x1="536.58" y1="703.46" x2="539.45" y2="703.46" stroke="#66708a" stroke-width="0.8"/>
<rect x="540.35" y="703.17" width="2.87" height="26.33" fill="#6f8cad"/>
<line x1="540.35" y1="703.17" x2="543.22" y2="703.17" stroke="#66708a" stroke-width="0.8"/>
<rect x="544.12" y="709.11" width="2.87" height="20.39" fill="#6f8cad"/>
<line x1="544.12" y1="709.11" x2="546.98" y2="709.11" stroke="#66708a" stroke-width="0.8"/>
<rect x="547.88" y="714.85" width="2.87" height="14.65" fill="#6f8cad"/>
<line x1="547.88" y1="714.85" x2="550.75" y2="714.85" stroke="#66708a" stroke-width="0.8"/>
<rect x="551.65" y="715.64" width="2.87" height="13.86" fill="#6f8cad"/>
<line x1="551.65" y1="715.64" x2="554.52" y2="715.64" stroke="#66708a" stroke-width="0.8"/>
<rect x="555.42" y="719.11" width="2.87" height="10.4" fill="#6f8cad"/>
<line x1="555.42" y1="719.11" x2="558.28" y2="719.11" stroke="#66708a" stroke-width="0.8"/>
<rect x="559.19" y="720.39" width="2.87" height="9.11" fill="#6f8cad"/>
<line x1="559.19" y1="720.39" x2="562.05" y2="720.39" stroke="#66708a" stroke-width="0.8"/>
<rect x="562.95" y="722.67" width="2.87" height="6.83" fill="#6f8cad"/>
<line x1="562.95" y1="722.67" x2="565.82" y2="722.67" stroke="#66708a" stroke-width="0.8"/>
<rect x="566.72" y="724.25" width="2.87" height="5.25" fill="#6f8cad"/>
<line x1="566.72" y1="724.25" x2="569.59" y2="724.25" stroke="#66708a" stroke-width="0.8"/>
<rect x="570.49" y="726.13" width="2.87" height="3.37" fill="#6f8cad"/>
<line x1="570.49" y1="726.13" x2="573.36" y2="726.13" stroke="#66708a" stroke-width="0.8"/>
<rect x="574.26" y="727.22" width="2.87" height="2.28" fill="#6f8cad"/>
<line x1="574.26" y1="727.22" x2="577.12" y2="727.22" stroke="#66708a" stroke-width="0.8"/>
<rect x="578.02" y="728.31" width="2.87" height="1.19" fill="#6f8cad"/>
<line x1="578.02" y1="728.31" x2="580.89" y2="728.31" stroke="#66708a" stroke-width="0.8"/>
<rect x="581.79" y="728.91" width="2.87" height="0.59" fill="#6f8cad"/>
<line x1="581.79" y1="728.91" x2="584.66" y2="728.91" stroke="#66708a" stroke-width="0.8"/>
<rect x="585.56" y="729.1" width="2.87" height="0.4" fill="#6f8cad"/>
<line x1="585.56" y1="729.1" x2="588.43" y2="729.1" stroke="#66708a" stroke-width="0.8"/>
<rect x="589.33" y="729.3" width="2.87" height="0.2" fill="#6f8cad"/>
<line x1="589.33" y1="729.3" x2="592.19" y2="729.3" stroke="#66708a" stroke-width="0.8"/>
<polyline points="418.8,729.5 422.7,725.14 426,719.2 430.2,713.46 433.1,707.13 434.5,699.8 435.8,693.07 437.8,686.73 440.3,680.2 442.3,673.07 442.9,666.14 444.2,659.8 448.7,654.85 451.7,648.91 454,642.18 457.4,636.84 460.5,629.91 462.4,623.37 463.8,616.24 464.8,609.31 465.8,602.58 468.7,604.56 471.6,599.61 473.6,593.67 476.5,595.26 479.5,597.24 485.3,593.67 489.3,588.72 490.9,589.71 496.4,587.53 501,583.18 505.1,581.4 509.3,576.64 513.5,577.04 516.9,570.9 520.3,566.35 526.1,565.75 533.7,566.35 540.4,564.96 545.4,560.21 550.8,558.63 557.2,561.6 563.9,563.38 568.9,559.81 571,553.28 575.6,548.92 579.3,543.38 582,536.65 586.6,531.7 589.5,525.56" fill="none" stroke="#5e3c99" stroke-width="3.5" stroke-dasharray="3.7 3.1" stroke-linejoin="round"/>
</g>
<line x1="400" y1="531.9" x2="627" y2="531.9" stroke="#3a3a3a" stroke-width="1"/>
<line x1="400.5" y1="729.5" x2="626.5" y2="729.5" stroke="#3a3a3a" stroke-width="1"/>
<line x1="400.5" y1="531" x2="400.5" y2="730" stroke="#3a3a3a" stroke-width="1"/>
<line x1="626.5" y1="531" x2="626.5" y2="730" stroke="#5e3c99" stroke-width="1"/>
<line x1="400.5" y1="729.5" x2="403" y2="729.5" stroke="#3a3a3a" stroke-width="1"/>
<line x1="400.5" y1="680.5" x2="403" y2="680.5" stroke="#3a3a3a" stroke-width="1"/>
<line x1="400.5" y1="630.5" x2="403" y2="630.5" stroke="#3a3a3a" stroke-width="1"/>
<line x1="400.5" y1="581.5" x2="403" y2="581.5" stroke="#3a3a3a" stroke-width="1"/>
<line x1="400.5" y1="531.5" x2="403" y2="531.5" stroke="#3a3a3a" stroke-width="1"/>
<line x1="626.5" y1="729.5" x2="624" y2="729.5" stroke="#5e3c99" stroke-width="1"/>
<line x1="626.5" y1="689.5" x2="624" y2="689.5" stroke="#5e3c99" stroke-width="1"/>
<line x1="626.5" y1="650.5" x2="624" y2="650.5" stroke="#5e3c99" stroke-width="1"/>
<line x1="626.5" y1="610.5" x2="624" y2="610.5" stroke="#5e3c99" stroke-width="1"/>
<line x1="626.5" y1="571.5" x2="624" y2="571.5" stroke="#5e3c99" stroke-width="1"/>
<line x1="626.5" y1="531.5" x2="624" y2="531.5" stroke="#5e3c99" stroke-width="1"/>
<line x1="400.5" y1="729.5" x2="400.5" y2="727" stroke="#3a3a3a" stroke-width="1"/>
<line x1="400.5" y1="531.5" x2="400.5" y2="534" stroke="#3a3a3a" stroke-width="1"/>
<line x1="475.5" y1="729.5" x2="475.5" y2="727" stroke="#3a3a3a" stroke-width="1"/>
<line x1="475.5" y1="531.5" x2="475.5" y2="534" stroke="#3a3a3a" stroke-width="1"/>
<line x1="551.5" y1="729.5" x2="551.5" y2="727" stroke="#3a3a3a" stroke-width="1"/>
<line x1="551.5" y1="531.5" x2="551.5" y2="534" stroke="#3a3a3a" stroke-width="1"/>
<line x1="626.5" y1="729.5" x2="626.5" y2="727" stroke="#3a3a3a" stroke-width="1"/>
<line x1="626.5" y1="531.5" x2="626.5" y2="534" stroke="#3a3a3a" stroke-width="1"/>
<text x="395.2" y="735.9" font-size="17" text-anchor="end" stroke="#161616" stroke-width="0.18" fill="#161616" textLength="9.5" lengthAdjust="spacingAndGlyphs">0</text>
<text x="395.2" y="686.45" font-size="17" text-anchor="end" stroke="#161616" stroke-width="0.18" fill="#161616" textLength="30" lengthAdjust="spacingAndGlyphs">500</text>
<text x="395.2" y="637" font-size="17" text-anchor="end" stroke="#161616" stroke-width="0.18" fill="#161616" textLength="39.8" lengthAdjust="spacingAndGlyphs">1000</text>
<text x="395.2" y="587.55" font-size="17" text-anchor="end" stroke="#161616" stroke-width="0.18" fill="#161616" textLength="39.8" lengthAdjust="spacingAndGlyphs">1500</text>
<text x="395.2" y="538.1" font-size="17" text-anchor="end" stroke="#161616" stroke-width="0.18" fill="#161616" textLength="39.8" lengthAdjust="spacingAndGlyphs">2000</text>
<text x="630.6" y="735.1" font-size="17" stroke="#6a4da6" stroke-width="0.18" fill="#6a4da6" textLength="7.5" lengthAdjust="spacingAndGlyphs">0</text>
<text x="630.6" y="695.5" font-size="17" stroke="#6a4da6" stroke-width="0.18" fill="#6a4da6" textLength="26" lengthAdjust="spacingAndGlyphs">0.2</text>
<text x="630.6" y="655.9" font-size="17" stroke="#6a4da6" stroke-width="0.18" fill="#6a4da6" textLength="26" lengthAdjust="spacingAndGlyphs">0.4</text>
<text x="630.6" y="616.3" font-size="17" stroke="#6a4da6" stroke-width="0.18" fill="#6a4da6" textLength="26" lengthAdjust="spacingAndGlyphs">0.6</text>
<text x="630.6" y="576.7" font-size="17" stroke="#6a4da6" stroke-width="0.18" fill="#6a4da6" textLength="26" lengthAdjust="spacingAndGlyphs">0.8</text>
<text x="630.6" y="537.1" font-size="17" stroke="#6a4da6" stroke-width="0.18" fill="#6a4da6" textLength="7.5" lengthAdjust="spacingAndGlyphs">1</text>
<text x="403.5" y="745.6" font-size="17" text-anchor="middle" stroke="#161616" stroke-width="0.18" fill="#161616" textLength="9.6" lengthAdjust="spacingAndGlyphs">4</text>
<text x="475.6" y="745.6" font-size="17" text-anchor="middle" stroke="#161616" stroke-width="0.18" fill="#161616" textLength="9.6" lengthAdjust="spacingAndGlyphs">6</text>
<text x="551" y="745.6" font-size="17" text-anchor="middle" stroke="#161616" stroke-width="0.18" fill="#161616" textLength="9.6" lengthAdjust="spacingAndGlyphs">8</text>
<text x="620" y="745.6" font-size="17" text-anchor="middle" stroke="#161616" stroke-width="0.18" fill="#161616" textLength="18.8" lengthAdjust="spacingAndGlyphs">10</text>
<text x="505.69" y="526.8" font-size="16.8" stroke="#161616" stroke-width="0.18" fill="#161616" textLength="9" lengthAdjust="spacingAndGlyphs">F</text>
<path d="M515.4 515.04h5.4v1.21h-1.99v9.34h1.99v1.21h-5.4v-1.21h1.99v-9.34z" fill="#161616"/>
<text x="682.3" y="630.5" font-size="16.3" text-anchor="middle" stroke="#6a4da6" stroke-width="0.18" fill="#6a4da6" textLength="57.5" lengthAdjust="spacingAndGlyphs" transform="rotate(-90 682.3 630.5)">ID rate</text>
<rect x="85.5" y="289.5" width="106.0" height="46.5" fill="none" stroke="#3a3a3a" stroke-width="1"/>
<rect x="89.5" y="292.6" width="26" height="10.8" fill="#e8a197" stroke="#d9644f" stroke-width="1"/>
<rect x="89.5" y="307.6" width="26" height="10.8" fill="#68acd6" stroke="#1a6fb0" stroke-width="1"/>
<line x1="89" y1="328" x2="114" y2="328" stroke="#5e3c99" stroke-width="3.6" stroke-dasharray="3.86 3.2"/>
<text x="118.4" y="302.6" font-size="12" stroke="#161616" stroke-width="0.18" fill="#161616" textLength="69.6" lengthAdjust="spacingAndGlyphs">Unidentified</text>
<text x="118.4" y="317.6" font-size="12" stroke="#161616" stroke-width="0.18" fill="#161616" textLength="55.6" lengthAdjust="spacingAndGlyphs">Identified</text>
<text x="118.4" y="332.6" font-size="12" stroke="#161616" stroke-width="0.18" fill="#161616" textLength="41" lengthAdjust="spacingAndGlyphs">ID rate</text>
<text x="177.7" y="773.9" font-size="16.3" text-anchor="middle" stroke="#161616" stroke-width="0.18" fill="#161616" textLength="58.2" lengthAdjust="spacingAndGlyphs">QScore</text>
<text x="415.2" y="774.2" font-size="16.3" stroke="#161616" stroke-width="0.18" fill="#161616" textLength="24" lengthAdjust="spacingAndGlyphs">log</text>
<text x="440" y="779.2" font-size="11.8" stroke="#161616" stroke-width="0.18" fill="#161616" textLength="12.8" lengthAdjust="spacingAndGlyphs">10</text>
<text x="453.2" y="774.2" font-size="16.3" stroke="#161616" stroke-width="0.18" fill="#161616" textLength="168.8" lengthAdjust="spacingAndGlyphs">(Precursor intensity)</text>
<path d="M173.87 15h6.71v2.03h-6.71z M173.87 24.97h6.71v2.03h-6.71z" fill="#000"/>
<path d="M507.9 73.05h2.29v0.67h-2.29z M507.9 79.63h2.29v0.67h-2.29z" fill="#2a2a2a"/>
<path d="M194.42 234.2h6.71v2.03h-6.71z M194.42 244.17h6.71v2.03h-6.71z" fill="#000"/>
<path d="M461.36 234.2h6.71v2.03h-6.71z M461.36 244.17h6.71v2.03h-6.71z" fill="#000"/>
<path d="M590.86 234.2h6.71v2.03h-6.71z M590.86 244.17h6.71v2.03h-6.71z" fill="#000"/>
<path d="M653.85 368.75h4.73v1.39h-4.73z M653.85 379.36h4.73v1.39h-4.73z" fill="#6a4da6" transform="rotate(-90 682.3 381)"/>
<path d="M653.85 618.25h4.73v1.39h-4.73z M653.85 628.86h4.73v1.39h-4.73z" fill="#6a4da6" transform="rotate(-90 682.3 630.5)"/>
<path d="M118.57 309.1h3.48v1.02h-3.48z M118.57 317.08h3.48v1.02h-3.48z" fill="#161616"/>
<path d="M118.56 324.1h3.48v1.02h-3.48z M118.56 332.08h3.48v1.02h-3.48z" fill="#161616"/></svg>
</body></html>
